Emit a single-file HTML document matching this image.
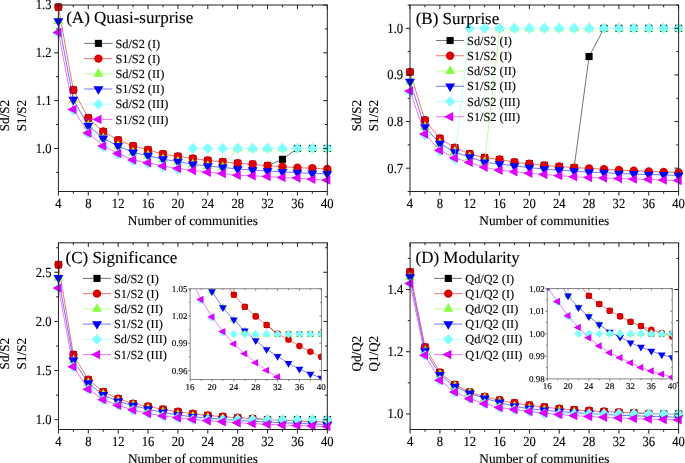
<!DOCTYPE html>
<html><head><meta charset="utf-8"><title>Figure</title>
<style>
html,body{margin:0;padding:0;background:#fff;}
body{width:685px;height:463px;overflow:hidden;}
svg{display:block;will-change:transform;}
text{font-family:"Liberation Serif", serif;fill:#000;stroke:#000;stroke-width:0.12px;text-rendering:geometricPrecision;}
</style></head>
<body>
<svg width="685" height="463" viewBox="0 0 685 463">
<rect width="685" height="463" fill="#fff"/>
<polyline points="267.54,165.82 282.48,159.32 297.42,148.46" fill="none" stroke="#000000" stroke-width="0.55"/>
<rect x="54.85" y="3.55" width="7.10" height="7.10" fill="#000000"/>
<rect x="69.79" y="86.43" width="7.10" height="7.10" fill="#000000"/>
<rect x="84.73" y="114.45" width="7.10" height="7.10" fill="#000000"/>
<rect x="99.67" y="127.98" width="7.10" height="7.10" fill="#000000"/>
<rect x="114.61" y="136.54" width="7.10" height="7.10" fill="#000000"/>
<rect x="129.54" y="142.42" width="7.10" height="7.10" fill="#000000"/>
<rect x="144.48" y="146.35" width="7.10" height="7.10" fill="#000000"/>
<rect x="159.42" y="150.51" width="7.10" height="7.10" fill="#000000"/>
<rect x="174.36" y="152.80" width="7.10" height="7.10" fill="#000000"/>
<rect x="189.30" y="154.95" width="7.10" height="7.10" fill="#000000"/>
<rect x="204.24" y="156.87" width="7.10" height="7.10" fill="#000000"/>
<rect x="219.18" y="158.30" width="7.10" height="7.10" fill="#000000"/>
<rect x="234.12" y="159.74" width="7.10" height="7.10" fill="#000000"/>
<rect x="249.06" y="160.69" width="7.10" height="7.10" fill="#000000"/>
<rect x="263.99" y="162.27" width="7.10" height="7.10" fill="#000000"/>
<rect x="278.93" y="155.77" width="7.10" height="7.10" fill="#000000"/>
<rect x="293.87" y="144.91" width="7.10" height="7.10" fill="#000000"/>
<rect x="308.81" y="144.91" width="7.10" height="7.10" fill="#000000"/>
<rect x="323.75" y="144.91" width="7.10" height="7.10" fill="#000000"/>
<polyline points="58.40,7.10 73.34,89.98 88.28,118.00 103.22,131.53 118.16,140.09 133.09,145.97 148.03,149.90 162.97,154.06 177.91,156.35 192.85,158.50 207.79,160.42 222.73,161.85 237.67,163.29 252.61,164.24 267.54,165.82 282.48,166.63 297.42,167.69 312.36,168.16 327.30,169.02" fill="none" stroke="#dd0000" stroke-width="0.55"/>
<circle cx="58.40" cy="7.10" r="4.20" fill="#dd0000"/>
<circle cx="73.34" cy="89.98" r="4.20" fill="#dd0000"/>
<circle cx="88.28" cy="118.00" r="4.20" fill="#dd0000"/>
<circle cx="103.22" cy="131.53" r="4.20" fill="#dd0000"/>
<circle cx="118.16" cy="140.09" r="4.20" fill="#dd0000"/>
<circle cx="133.09" cy="145.97" r="4.20" fill="#dd0000"/>
<circle cx="148.03" cy="149.90" r="4.20" fill="#dd0000"/>
<circle cx="162.97" cy="154.06" r="4.20" fill="#dd0000"/>
<circle cx="177.91" cy="156.35" r="4.20" fill="#dd0000"/>
<circle cx="192.85" cy="158.50" r="4.20" fill="#dd0000"/>
<circle cx="207.79" cy="160.42" r="4.20" fill="#dd0000"/>
<circle cx="222.73" cy="161.85" r="4.20" fill="#dd0000"/>
<circle cx="237.67" cy="163.29" r="4.20" fill="#dd0000"/>
<circle cx="252.61" cy="164.24" r="4.20" fill="#dd0000"/>
<circle cx="267.54" cy="165.82" r="4.20" fill="#dd0000"/>
<circle cx="282.48" cy="166.63" r="4.20" fill="#dd0000"/>
<circle cx="297.42" cy="167.69" r="4.20" fill="#dd0000"/>
<circle cx="312.36" cy="168.16" r="4.20" fill="#dd0000"/>
<circle cx="327.30" cy="169.02" r="4.20" fill="#dd0000"/>
<polyline points="222.73,167.30 237.67,148.46" fill="none" stroke="#88ff44" stroke-width="0.55"/>
<polygon points="58.40,15.22 53.40,23.92 63.40,23.92" fill="#88ff44"/>
<polygon points="73.34,93.88 68.34,102.58 78.34,102.58" fill="#88ff44"/>
<polygon points="88.28,119.71 83.28,128.41 93.28,128.41" fill="#88ff44"/>
<polygon points="103.22,132.62 98.22,141.32 108.22,141.32" fill="#88ff44"/>
<polygon points="118.16,140.17 113.16,148.87 123.16,148.87" fill="#88ff44"/>
<polygon points="133.09,146.63 128.09,155.33 138.09,155.33" fill="#88ff44"/>
<polygon points="148.03,149.83 143.03,158.53 153.03,158.53" fill="#88ff44"/>
<polygon points="162.97,153.42 157.97,162.12 167.97,162.12" fill="#88ff44"/>
<polygon points="177.91,155.72 172.91,164.42 182.91,164.42" fill="#88ff44"/>
<polygon points="192.85,158.59 187.85,167.29 197.85,167.29" fill="#88ff44"/>
<polygon points="207.79,160.31 202.79,169.01 212.79,169.01" fill="#88ff44"/>
<polygon points="222.73,161.50 217.73,170.20 227.73,170.20" fill="#88ff44"/>
<polygon points="237.67,142.66 232.67,151.36 242.67,151.36" fill="#88ff44"/>
<polygon points="252.61,142.66 247.61,151.36 257.61,151.36" fill="#88ff44"/>
<polygon points="267.54,142.66 262.54,151.36 272.54,151.36" fill="#88ff44"/>
<polygon points="282.48,142.66 277.48,151.36 287.48,151.36" fill="#88ff44"/>
<polygon points="297.42,142.66 292.42,151.36 302.42,151.36" fill="#88ff44"/>
<polygon points="312.36,142.66 307.36,151.36 317.36,151.36" fill="#88ff44"/>
<polygon points="327.30,142.66 322.30,151.36 332.30,151.36" fill="#88ff44"/>
<polyline points="58.40,21.02 73.34,99.68 88.28,125.51 103.22,138.42 118.16,145.97 133.09,152.43 148.03,155.63 162.97,159.22 177.91,161.52 192.85,164.39 207.79,166.11 222.73,167.30 237.67,169.02 252.61,170.08 267.54,171.08 282.48,171.89 297.42,172.66 312.36,173.47 327.30,173.81" fill="none" stroke="#0000ff" stroke-width="0.55"/>
<polygon points="58.40,26.75 53.40,18.15 63.40,18.15" fill="#0000ff"/>
<polygon points="73.34,105.42 68.34,96.82 78.34,96.82" fill="#0000ff"/>
<polygon points="88.28,131.24 83.28,122.64 93.28,122.64" fill="#0000ff"/>
<polygon points="103.22,144.15 98.22,135.55 108.22,135.55" fill="#0000ff"/>
<polygon points="118.16,151.71 113.16,143.11 123.16,143.11" fill="#0000ff"/>
<polygon points="133.09,158.16 128.09,149.56 138.09,149.56" fill="#0000ff"/>
<polygon points="148.03,161.37 143.03,152.77 153.03,152.77" fill="#0000ff"/>
<polygon points="162.97,164.95 157.97,156.35 167.97,156.35" fill="#0000ff"/>
<polygon points="177.91,167.25 172.91,158.65 182.91,158.65" fill="#0000ff"/>
<polygon points="192.85,170.12 187.85,161.52 197.85,161.52" fill="#0000ff"/>
<polygon points="207.79,171.84 202.79,163.24 212.79,163.24" fill="#0000ff"/>
<polygon points="222.73,173.04 217.73,164.44 227.73,164.44" fill="#0000ff"/>
<polygon points="237.67,174.76 232.67,166.16 242.67,166.16" fill="#0000ff"/>
<polygon points="252.61,175.81 247.61,167.21 257.61,167.21" fill="#0000ff"/>
<polygon points="267.54,176.81 262.54,168.21 272.54,168.21" fill="#0000ff"/>
<polygon points="282.48,177.63 277.48,169.03 287.48,169.03" fill="#0000ff"/>
<polygon points="297.42,178.39 292.42,169.79 302.42,169.79" fill="#0000ff"/>
<polygon points="312.36,179.20 307.36,170.60 317.36,170.60" fill="#0000ff"/>
<polygon points="327.30,179.54 322.30,170.94 332.30,170.94" fill="#0000ff"/>
<polyline points="177.91,168.40 192.85,148.46 207.79,148.46 222.73,148.46 237.67,148.46 252.61,148.46 267.54,148.46 282.48,148.46 297.42,148.46 312.36,148.46 327.30,148.46" fill="none" stroke="#80ffff" stroke-width="0.55"/>
<polygon points="58.40,28.10 63.60,33.45 58.40,38.80 53.20,33.45" fill="#80ffff"/>
<polygon points="73.34,105.00 78.54,110.35 73.34,115.70 68.14,110.35" fill="#80ffff"/>
<polygon points="88.28,128.62 93.48,133.97 88.28,139.32 83.08,133.97" fill="#80ffff"/>
<polygon points="103.22,141.58 108.42,146.93 103.22,152.28 98.02,146.93" fill="#80ffff"/>
<polygon points="118.16,149.04 123.36,154.39 118.16,159.74 112.96,154.39" fill="#80ffff"/>
<polygon points="133.09,155.54 138.29,160.89 133.09,166.24 127.89,160.89" fill="#80ffff"/>
<polygon points="148.03,158.41 153.23,163.76 148.03,169.11 142.83,163.76" fill="#80ffff"/>
<polygon points="162.97,161.71 168.17,167.06 162.97,172.41 157.77,167.06" fill="#80ffff"/>
<polygon points="177.91,164.01 183.11,169.36 177.91,174.71 172.71,169.36" fill="#80ffff"/>
<polygon points="192.85,143.11 198.05,148.46 192.85,153.81 187.65,148.46" fill="#80ffff"/>
<polygon points="207.79,143.11 212.99,148.46 207.79,153.81 202.59,148.46" fill="#80ffff"/>
<polygon points="222.73,143.11 227.93,148.46 222.73,153.81 217.53,148.46" fill="#80ffff"/>
<polygon points="237.67,143.11 242.87,148.46 237.67,153.81 232.47,148.46" fill="#80ffff"/>
<polygon points="252.61,143.11 257.81,148.46 252.61,153.81 247.41,148.46" fill="#80ffff"/>
<polygon points="267.54,143.11 272.74,148.46 267.54,153.81 262.34,148.46" fill="#80ffff"/>
<polygon points="282.48,143.11 287.68,148.46 282.48,153.81 277.28,148.46" fill="#80ffff"/>
<polygon points="297.42,143.11 302.62,148.46 297.42,153.81 292.22,148.46" fill="#80ffff"/>
<polygon points="312.36,143.11 317.56,148.46 312.36,153.81 307.16,148.46" fill="#80ffff"/>
<polygon points="327.30,143.11 332.50,148.46 327.30,153.81 322.10,148.46" fill="#80ffff"/>
<polyline points="58.40,32.50 73.34,109.39 88.28,133.02 103.22,145.97 118.16,153.43 133.09,159.94 148.03,162.81 162.97,166.11 177.91,168.40 192.85,170.46 207.79,172.18 222.73,173.57 237.67,175.34 252.61,175.86 267.54,176.44 282.48,177.44 297.42,178.06 312.36,179.35 327.30,180.17" fill="none" stroke="#dd00ff" stroke-width="0.55"/>
<polygon points="52.27,32.50 61.47,27.80 61.47,37.20" fill="#dd00ff"/>
<polygon points="67.21,109.39 76.41,104.69 76.41,114.09" fill="#dd00ff"/>
<polygon points="82.14,133.02 91.34,128.32 91.34,137.72" fill="#dd00ff"/>
<polygon points="97.08,145.97 106.28,141.27 106.28,150.67" fill="#dd00ff"/>
<polygon points="112.02,153.43 121.22,148.73 121.22,158.13" fill="#dd00ff"/>
<polygon points="126.96,159.94 136.16,155.24 136.16,164.64" fill="#dd00ff"/>
<polygon points="141.90,162.81 151.10,158.11 151.10,167.51" fill="#dd00ff"/>
<polygon points="156.84,166.11 166.04,161.41 166.04,170.81" fill="#dd00ff"/>
<polygon points="171.78,168.40 180.98,163.70 180.98,173.10" fill="#dd00ff"/>
<polygon points="186.72,170.46 195.92,165.76 195.92,175.16" fill="#dd00ff"/>
<polygon points="201.66,172.18 210.86,167.48 210.86,176.88" fill="#dd00ff"/>
<polygon points="216.59,173.57 225.79,168.87 225.79,178.27" fill="#dd00ff"/>
<polygon points="231.53,175.34 240.73,170.64 240.73,180.04" fill="#dd00ff"/>
<polygon points="246.47,175.86 255.67,171.16 255.67,180.56" fill="#dd00ff"/>
<polygon points="261.41,176.44 270.61,171.74 270.61,181.14" fill="#dd00ff"/>
<polygon points="276.35,177.44 285.55,172.74 285.55,182.14" fill="#dd00ff"/>
<polygon points="291.29,178.06 300.49,173.36 300.49,182.76" fill="#dd00ff"/>
<polygon points="306.23,179.35 315.43,174.65 315.43,184.05" fill="#dd00ff"/>
<polygon points="321.17,180.17 330.37,175.47 330.37,184.87" fill="#dd00ff"/>
<rect x="58.40" y="5.00" width="268.90" height="186.50" fill="none" stroke="#222" stroke-width="1.0"/>
<line x1="58.40" y1="191.50" x2="58.40" y2="195.60" stroke="#222" stroke-width="1.0"/>
<line x1="58.40" y1="5.00" x2="58.40" y2="9.10" stroke="#222" stroke-width="1.0"/>
<text transform="translate(58.40,208.30) scale(0.94,1.04)" font-size="13.4" text-anchor="middle" >4</text>
<line x1="73.34" y1="191.50" x2="73.34" y2="193.80" stroke="#222" stroke-width="1.0"/>
<line x1="73.34" y1="5.00" x2="73.34" y2="7.30" stroke="#222" stroke-width="1.0"/>
<line x1="88.28" y1="191.50" x2="88.28" y2="195.60" stroke="#222" stroke-width="1.0"/>
<line x1="88.28" y1="5.00" x2="88.28" y2="9.10" stroke="#222" stroke-width="1.0"/>
<text transform="translate(88.28,208.30) scale(0.94,1.04)" font-size="13.4" text-anchor="middle" >8</text>
<line x1="103.22" y1="191.50" x2="103.22" y2="193.80" stroke="#222" stroke-width="1.0"/>
<line x1="103.22" y1="5.00" x2="103.22" y2="7.30" stroke="#222" stroke-width="1.0"/>
<line x1="118.16" y1="191.50" x2="118.16" y2="195.60" stroke="#222" stroke-width="1.0"/>
<line x1="118.16" y1="5.00" x2="118.16" y2="9.10" stroke="#222" stroke-width="1.0"/>
<text transform="translate(118.16,208.30) scale(0.94,1.04)" font-size="13.4" text-anchor="middle" >12</text>
<line x1="133.09" y1="191.50" x2="133.09" y2="193.80" stroke="#222" stroke-width="1.0"/>
<line x1="133.09" y1="5.00" x2="133.09" y2="7.30" stroke="#222" stroke-width="1.0"/>
<line x1="148.03" y1="191.50" x2="148.03" y2="195.60" stroke="#222" stroke-width="1.0"/>
<line x1="148.03" y1="5.00" x2="148.03" y2="9.10" stroke="#222" stroke-width="1.0"/>
<text transform="translate(148.03,208.30) scale(0.94,1.04)" font-size="13.4" text-anchor="middle" >16</text>
<line x1="162.97" y1="191.50" x2="162.97" y2="193.80" stroke="#222" stroke-width="1.0"/>
<line x1="162.97" y1="5.00" x2="162.97" y2="7.30" stroke="#222" stroke-width="1.0"/>
<line x1="177.91" y1="191.50" x2="177.91" y2="195.60" stroke="#222" stroke-width="1.0"/>
<line x1="177.91" y1="5.00" x2="177.91" y2="9.10" stroke="#222" stroke-width="1.0"/>
<text transform="translate(177.91,208.30) scale(0.94,1.04)" font-size="13.4" text-anchor="middle" >20</text>
<line x1="192.85" y1="191.50" x2="192.85" y2="193.80" stroke="#222" stroke-width="1.0"/>
<line x1="192.85" y1="5.00" x2="192.85" y2="7.30" stroke="#222" stroke-width="1.0"/>
<line x1="207.79" y1="191.50" x2="207.79" y2="195.60" stroke="#222" stroke-width="1.0"/>
<line x1="207.79" y1="5.00" x2="207.79" y2="9.10" stroke="#222" stroke-width="1.0"/>
<text transform="translate(207.79,208.30) scale(0.94,1.04)" font-size="13.4" text-anchor="middle" >24</text>
<line x1="222.73" y1="191.50" x2="222.73" y2="193.80" stroke="#222" stroke-width="1.0"/>
<line x1="222.73" y1="5.00" x2="222.73" y2="7.30" stroke="#222" stroke-width="1.0"/>
<line x1="237.67" y1="191.50" x2="237.67" y2="195.60" stroke="#222" stroke-width="1.0"/>
<line x1="237.67" y1="5.00" x2="237.67" y2="9.10" stroke="#222" stroke-width="1.0"/>
<text transform="translate(237.67,208.30) scale(0.94,1.04)" font-size="13.4" text-anchor="middle" >28</text>
<line x1="252.61" y1="191.50" x2="252.61" y2="193.80" stroke="#222" stroke-width="1.0"/>
<line x1="252.61" y1="5.00" x2="252.61" y2="7.30" stroke="#222" stroke-width="1.0"/>
<line x1="267.54" y1="191.50" x2="267.54" y2="195.60" stroke="#222" stroke-width="1.0"/>
<line x1="267.54" y1="5.00" x2="267.54" y2="9.10" stroke="#222" stroke-width="1.0"/>
<text transform="translate(267.54,208.30) scale(0.94,1.04)" font-size="13.4" text-anchor="middle" >32</text>
<line x1="282.48" y1="191.50" x2="282.48" y2="193.80" stroke="#222" stroke-width="1.0"/>
<line x1="282.48" y1="5.00" x2="282.48" y2="7.30" stroke="#222" stroke-width="1.0"/>
<line x1="297.42" y1="191.50" x2="297.42" y2="195.60" stroke="#222" stroke-width="1.0"/>
<line x1="297.42" y1="5.00" x2="297.42" y2="9.10" stroke="#222" stroke-width="1.0"/>
<text transform="translate(297.42,208.30) scale(0.94,1.04)" font-size="13.4" text-anchor="middle" >36</text>
<line x1="312.36" y1="191.50" x2="312.36" y2="193.80" stroke="#222" stroke-width="1.0"/>
<line x1="312.36" y1="5.00" x2="312.36" y2="7.30" stroke="#222" stroke-width="1.0"/>
<line x1="327.30" y1="191.50" x2="327.30" y2="195.60" stroke="#222" stroke-width="1.0"/>
<line x1="327.30" y1="5.00" x2="327.30" y2="9.10" stroke="#222" stroke-width="1.0"/>
<text transform="translate(327.30,208.30) scale(0.94,1.04)" font-size="13.4" text-anchor="middle" >40</text>
<line x1="56.10" y1="172.37" x2="58.40" y2="172.37" stroke="#222" stroke-width="1.0"/>
<line x1="325.00" y1="172.37" x2="327.30" y2="172.37" stroke="#222" stroke-width="1.0"/>
<line x1="54.30" y1="148.46" x2="58.40" y2="148.46" stroke="#222" stroke-width="1.0"/>
<line x1="323.20" y1="148.46" x2="327.30" y2="148.46" stroke="#222" stroke-width="1.0"/>
<text transform="translate(51.50,152.86) scale(0.94,1.04)" font-size="13.4" text-anchor="end" >1.0</text>
<line x1="56.10" y1="124.55" x2="58.40" y2="124.55" stroke="#222" stroke-width="1.0"/>
<line x1="325.00" y1="124.55" x2="327.30" y2="124.55" stroke="#222" stroke-width="1.0"/>
<line x1="54.30" y1="100.64" x2="58.40" y2="100.64" stroke="#222" stroke-width="1.0"/>
<line x1="323.20" y1="100.64" x2="327.30" y2="100.64" stroke="#222" stroke-width="1.0"/>
<text transform="translate(51.50,105.04) scale(0.94,1.04)" font-size="13.4" text-anchor="end" >1.1</text>
<line x1="56.10" y1="76.73" x2="58.40" y2="76.73" stroke="#222" stroke-width="1.0"/>
<line x1="325.00" y1="76.73" x2="327.30" y2="76.73" stroke="#222" stroke-width="1.0"/>
<line x1="54.30" y1="52.82" x2="58.40" y2="52.82" stroke="#222" stroke-width="1.0"/>
<line x1="323.20" y1="52.82" x2="327.30" y2="52.82" stroke="#222" stroke-width="1.0"/>
<text transform="translate(51.50,57.22) scale(0.94,1.04)" font-size="13.4" text-anchor="end" >1.2</text>
<line x1="56.10" y1="28.91" x2="58.40" y2="28.91" stroke="#222" stroke-width="1.0"/>
<line x1="325.00" y1="28.91" x2="327.30" y2="28.91" stroke="#222" stroke-width="1.0"/>
<line x1="54.30" y1="5.00" x2="58.40" y2="5.00" stroke="#222" stroke-width="1.0"/>
<line x1="323.20" y1="5.00" x2="327.30" y2="5.00" stroke="#222" stroke-width="1.0"/>
<text transform="translate(51.50,9.40) scale(0.94,1.04)" font-size="13.4" text-anchor="end" >1.3</text>
<text x="192.85" y="224.90" font-size="13.3" text-anchor="middle" >Number of communities</text>
<text transform="translate(8.90,115.50) rotate(-90) scale(0.98,1.0)" font-size="13.4" text-anchor="middle">Sd/S2</text>
<text transform="translate(25.90,115.50) rotate(-90) scale(0.98,1.0)" font-size="13.4" text-anchor="middle">S1/S2</text>
<text x="66.20" y="23.20" font-size="17" text-anchor="start" >(A) Quasi-surprise</text>
<line x1="84.20" y1="43.40" x2="112.40" y2="43.40" stroke="#000000" stroke-width="0.55"/>
<rect x="94.85" y="39.85" width="7.10" height="7.10" fill="#000000"/>
<text x="115.40" y="47.50" font-size="12.3" text-anchor="start" >Sd/S2 (I)</text>
<line x1="84.20" y1="58.60" x2="112.40" y2="58.60" stroke="#dd0000" stroke-width="0.55"/>
<circle cx="98.40" cy="58.60" r="4.20" fill="#dd0000"/>
<text x="115.40" y="62.70" font-size="12.3" text-anchor="start" >S1/S2 (I)</text>
<line x1="84.20" y1="73.80" x2="112.40" y2="73.80" stroke="#88ff44" stroke-width="0.55"/>
<polygon points="98.40,68.00 93.40,76.70 103.40,76.70" fill="#88ff44"/>
<text x="115.40" y="77.90" font-size="12.3" text-anchor="start" >Sd/S2 (II)</text>
<line x1="84.20" y1="89.00" x2="112.40" y2="89.00" stroke="#0000ff" stroke-width="0.55"/>
<polygon points="98.40,94.73 93.40,86.13 103.40,86.13" fill="#0000ff"/>
<text x="115.40" y="93.10" font-size="12.3" text-anchor="start" >S1/S2 (II)</text>
<line x1="84.20" y1="104.20" x2="112.40" y2="104.20" stroke="#80ffff" stroke-width="0.55"/>
<polygon points="98.40,98.85 103.60,104.20 98.40,109.55 93.20,104.20" fill="#80ffff"/>
<text x="115.40" y="108.30" font-size="12.3" text-anchor="start" >Sd/S2 (III)</text>
<line x1="84.20" y1="119.40" x2="112.40" y2="119.40" stroke="#dd00ff" stroke-width="0.55"/>
<polygon points="92.27,119.40 101.47,114.70 101.47,124.10" fill="#dd00ff"/>
<text x="115.40" y="123.50" font-size="12.3" text-anchor="start" >S1/S2 (III)</text>
<polyline points="574.14,167.58 589.07,56.52 603.99,28.31" fill="none" stroke="#000000" stroke-width="0.55"/>
<rect x="406.45" y="68.50" width="7.10" height="7.10" fill="#000000"/>
<rect x="421.37" y="116.71" width="7.10" height="7.10" fill="#000000"/>
<rect x="436.29" y="134.84" width="7.10" height="7.10" fill="#000000"/>
<rect x="451.22" y="144.12" width="7.10" height="7.10" fill="#000000"/>
<rect x="466.14" y="150.28" width="7.10" height="7.10" fill="#000000"/>
<rect x="481.06" y="154.10" width="7.10" height="7.10" fill="#000000"/>
<rect x="495.98" y="155.92" width="7.10" height="7.10" fill="#000000"/>
<rect x="510.91" y="158.67" width="7.10" height="7.10" fill="#000000"/>
<rect x="525.83" y="160.16" width="7.10" height="7.10" fill="#000000"/>
<rect x="540.75" y="161.84" width="7.10" height="7.10" fill="#000000"/>
<rect x="555.67" y="162.96" width="7.10" height="7.10" fill="#000000"/>
<rect x="570.59" y="164.03" width="7.10" height="7.10" fill="#000000"/>
<rect x="585.52" y="52.97" width="7.10" height="7.10" fill="#000000"/>
<rect x="600.44" y="24.76" width="7.10" height="7.10" fill="#000000"/>
<rect x="615.36" y="24.76" width="7.10" height="7.10" fill="#000000"/>
<rect x="630.28" y="24.76" width="7.10" height="7.10" fill="#000000"/>
<rect x="645.21" y="24.76" width="7.10" height="7.10" fill="#000000"/>
<rect x="660.13" y="24.76" width="7.10" height="7.10" fill="#000000"/>
<rect x="675.05" y="24.76" width="7.10" height="7.10" fill="#000000"/>
<polyline points="410.00,72.05 424.92,120.26 439.84,138.39 454.77,147.67 469.69,153.83 484.61,157.65 499.53,159.47 514.46,162.22 529.38,163.71 544.30,165.39 559.22,166.51 574.14,167.58 589.07,168.37 603.99,169.12 618.91,169.87 633.83,170.66 648.76,171.36 663.68,171.92 678.60,172.48" fill="none" stroke="#dd0000" stroke-width="0.55"/>
<circle cx="410.00" cy="72.05" r="4.20" fill="#dd0000"/>
<circle cx="424.92" cy="120.26" r="4.20" fill="#dd0000"/>
<circle cx="439.84" cy="138.39" r="4.20" fill="#dd0000"/>
<circle cx="454.77" cy="147.67" r="4.20" fill="#dd0000"/>
<circle cx="469.69" cy="153.83" r="4.20" fill="#dd0000"/>
<circle cx="484.61" cy="157.65" r="4.20" fill="#dd0000"/>
<circle cx="499.53" cy="159.47" r="4.20" fill="#dd0000"/>
<circle cx="514.46" cy="162.22" r="4.20" fill="#dd0000"/>
<circle cx="529.38" cy="163.71" r="4.20" fill="#dd0000"/>
<circle cx="544.30" cy="165.39" r="4.20" fill="#dd0000"/>
<circle cx="559.22" cy="166.51" r="4.20" fill="#dd0000"/>
<circle cx="574.14" cy="167.58" r="4.20" fill="#dd0000"/>
<circle cx="589.07" cy="168.37" r="4.20" fill="#dd0000"/>
<circle cx="603.99" cy="169.12" r="4.20" fill="#dd0000"/>
<circle cx="618.91" cy="169.87" r="4.20" fill="#dd0000"/>
<circle cx="633.83" cy="170.66" r="4.20" fill="#dd0000"/>
<circle cx="648.76" cy="171.36" r="4.20" fill="#dd0000"/>
<circle cx="663.68" cy="171.92" r="4.20" fill="#dd0000"/>
<circle cx="678.60" cy="172.48" r="4.20" fill="#dd0000"/>
<polyline points="484.61,162.31 499.53,28.31" fill="none" stroke="#88ff44" stroke-width="0.55"/>
<polygon points="410.00,75.80 405.00,84.50 415.00,84.50" fill="#88ff44"/>
<polygon points="424.92,121.26 419.92,129.96 429.92,129.96" fill="#88ff44"/>
<polygon points="439.84,137.77 434.84,146.47 444.84,146.47" fill="#88ff44"/>
<polygon points="454.77,146.26 449.77,154.96 459.77,154.96" fill="#88ff44"/>
<polygon points="469.69,151.43 464.69,160.13 474.69,160.13" fill="#88ff44"/>
<polygon points="484.61,156.51 479.61,165.21 489.61,165.21" fill="#88ff44"/>
<polygon points="499.53,22.51 494.53,31.21 504.53,31.21" fill="#88ff44"/>
<polygon points="514.46,22.51 509.46,31.21 519.46,31.21" fill="#88ff44"/>
<polygon points="529.38,22.51 524.38,31.21 534.38,31.21" fill="#88ff44"/>
<polygon points="544.30,22.51 539.30,31.21 549.30,31.21" fill="#88ff44"/>
<polygon points="559.22,22.51 554.22,31.21 564.22,31.21" fill="#88ff44"/>
<polygon points="574.14,22.51 569.14,31.21 579.14,31.21" fill="#88ff44"/>
<polygon points="589.07,22.51 584.07,31.21 594.07,31.21" fill="#88ff44"/>
<polygon points="603.99,22.51 598.99,31.21 608.99,31.21" fill="#88ff44"/>
<polygon points="618.91,22.51 613.91,31.21 623.91,31.21" fill="#88ff44"/>
<polygon points="633.83,22.51 628.83,31.21 638.83,31.21" fill="#88ff44"/>
<polygon points="648.76,22.51 643.76,31.21 653.76,31.21" fill="#88ff44"/>
<polygon points="663.68,22.51 658.68,31.21 668.68,31.21" fill="#88ff44"/>
<polygon points="678.60,22.51 673.60,31.21 683.60,31.21" fill="#88ff44"/>
<polyline points="410.00,81.60 424.92,127.06 439.84,143.57 454.77,152.06 469.69,157.23 484.61,162.31 499.53,163.99 514.46,166.00 529.38,167.58 544.30,169.12 559.22,170.19 574.14,171.08 589.07,172.15 603.99,172.62 618.91,173.64 633.83,173.97 648.76,174.58 663.68,174.85 678.60,175.55" fill="none" stroke="#0000ff" stroke-width="0.55"/>
<polygon points="410.00,87.34 405.00,78.74 415.00,78.74" fill="#0000ff"/>
<polygon points="424.92,132.80 419.92,124.20 429.92,124.20" fill="#0000ff"/>
<polygon points="439.84,149.30 434.84,140.70 444.84,140.70" fill="#0000ff"/>
<polygon points="454.77,157.79 449.77,149.19 459.77,149.19" fill="#0000ff"/>
<polygon points="469.69,162.96 464.69,154.36 474.69,154.36" fill="#0000ff"/>
<polygon points="484.61,168.05 479.61,159.45 489.61,159.45" fill="#0000ff"/>
<polygon points="499.53,169.72 494.53,161.12 504.53,161.12" fill="#0000ff"/>
<polygon points="514.46,171.73 509.46,163.13 519.46,163.13" fill="#0000ff"/>
<polygon points="529.38,173.31 524.38,164.71 534.38,164.71" fill="#0000ff"/>
<polygon points="544.30,174.85 539.30,166.25 549.30,166.25" fill="#0000ff"/>
<polygon points="559.22,175.93 554.22,167.33 564.22,167.33" fill="#0000ff"/>
<polygon points="574.14,176.81 569.14,168.21 579.14,168.21" fill="#0000ff"/>
<polygon points="589.07,177.88 584.07,169.28 594.07,169.28" fill="#0000ff"/>
<polygon points="603.99,178.35 598.99,169.75 608.99,169.75" fill="#0000ff"/>
<polygon points="618.91,179.38 613.91,170.78 623.91,170.78" fill="#0000ff"/>
<polygon points="633.83,179.70 628.83,171.10 638.83,171.10" fill="#0000ff"/>
<polygon points="648.76,180.31 643.76,171.71 653.76,171.71" fill="#0000ff"/>
<polygon points="663.68,180.59 658.68,171.99 668.68,171.99" fill="#0000ff"/>
<polygon points="678.60,181.29 673.60,172.69 683.60,172.69" fill="#0000ff"/>
<polyline points="454.77,158.02 469.69,28.31 484.61,28.31 499.53,28.31 514.46,28.31 529.38,28.31 544.30,28.31 559.22,28.31 574.14,28.31 589.07,28.31 603.99,28.31 618.91,28.31 633.83,28.31 648.76,28.31 663.68,28.31 678.60,28.31" fill="none" stroke="#80ffff" stroke-width="0.55"/>
<polygon points="410.00,86.47 415.20,91.82 410.00,97.17 404.80,91.82" fill="#80ffff"/>
<polygon points="424.92,129.59 430.12,134.94 424.92,140.29 419.72,134.94" fill="#80ffff"/>
<polygon points="439.84,145.82 445.04,151.17 439.84,156.52 434.64,151.17" fill="#80ffff"/>
<polygon points="454.77,153.61 459.97,158.96 454.77,164.31 449.57,158.96" fill="#80ffff"/>
<polygon points="469.69,22.96 474.89,28.31 469.69,33.66 464.49,28.31" fill="#80ffff"/>
<polygon points="484.61,22.96 489.81,28.31 484.61,33.66 479.41,28.31" fill="#80ffff"/>
<polygon points="499.53,22.96 504.73,28.31 499.53,33.66 494.33,28.31" fill="#80ffff"/>
<polygon points="514.46,22.96 519.66,28.31 514.46,33.66 509.26,28.31" fill="#80ffff"/>
<polygon points="529.38,22.96 534.58,28.31 529.38,33.66 524.18,28.31" fill="#80ffff"/>
<polygon points="544.30,22.96 549.50,28.31 544.30,33.66 539.10,28.31" fill="#80ffff"/>
<polygon points="559.22,22.96 564.42,28.31 559.22,33.66 554.02,28.31" fill="#80ffff"/>
<polygon points="574.14,22.96 579.34,28.31 574.14,33.66 568.94,28.31" fill="#80ffff"/>
<polygon points="589.07,22.96 594.27,28.31 589.07,33.66 583.87,28.31" fill="#80ffff"/>
<polygon points="603.99,22.96 609.19,28.31 603.99,33.66 598.79,28.31" fill="#80ffff"/>
<polygon points="618.91,22.96 624.11,28.31 618.91,33.66 613.71,28.31" fill="#80ffff"/>
<polygon points="633.83,22.96 639.03,28.31 633.83,33.66 628.63,28.31" fill="#80ffff"/>
<polygon points="648.76,22.96 653.96,28.31 648.76,33.66 643.56,28.31" fill="#80ffff"/>
<polygon points="663.68,22.96 668.88,28.31 663.68,33.66 658.48,28.31" fill="#80ffff"/>
<polygon points="678.60,22.96 683.80,28.31 678.60,33.66 673.40,28.31" fill="#80ffff"/>
<polyline points="410.00,90.88 424.92,134.01 439.84,150.24 454.77,158.02 469.69,162.41 484.61,167.30 499.53,170.19 514.46,171.68 529.38,173.18 544.30,174.44 559.22,175.65 574.14,176.77 589.07,177.51 603.99,177.98 618.91,178.44 633.83,179.14 648.76,179.38 663.68,180.12 678.60,180.54" fill="none" stroke="#dd00ff" stroke-width="0.55"/>
<polygon points="403.87,90.88 413.07,86.18 413.07,95.58" fill="#dd00ff"/>
<polygon points="418.79,134.01 427.99,129.31 427.99,138.71" fill="#dd00ff"/>
<polygon points="433.71,150.24 442.91,145.54 442.91,154.94" fill="#dd00ff"/>
<polygon points="448.63,158.02 457.83,153.32 457.83,162.72" fill="#dd00ff"/>
<polygon points="463.56,162.41 472.76,157.71 472.76,167.11" fill="#dd00ff"/>
<polygon points="478.48,167.30 487.68,162.60 487.68,172.00" fill="#dd00ff"/>
<polygon points="493.40,170.19 502.60,165.49 502.60,174.89" fill="#dd00ff"/>
<polygon points="508.32,171.68 517.52,166.98 517.52,176.38" fill="#dd00ff"/>
<polygon points="523.24,173.18 532.44,168.48 532.44,177.88" fill="#dd00ff"/>
<polygon points="538.17,174.44 547.37,169.74 547.37,179.14" fill="#dd00ff"/>
<polygon points="553.09,175.65 562.29,170.95 562.29,180.35" fill="#dd00ff"/>
<polygon points="568.01,176.77 577.21,172.07 577.21,181.47" fill="#dd00ff"/>
<polygon points="582.93,177.51 592.13,172.81 592.13,182.21" fill="#dd00ff"/>
<polygon points="597.86,177.98 607.06,173.28 607.06,182.68" fill="#dd00ff"/>
<polygon points="612.78,178.44 621.98,173.75 621.98,183.14" fill="#dd00ff"/>
<polygon points="627.70,179.14 636.90,174.44 636.90,183.84" fill="#dd00ff"/>
<polygon points="642.62,179.38 651.82,174.68 651.82,184.08" fill="#dd00ff"/>
<polygon points="657.54,180.12 666.74,175.42 666.74,184.82" fill="#dd00ff"/>
<polygon points="672.47,180.54 681.67,175.84 681.67,185.24" fill="#dd00ff"/>
<rect x="410.00" y="5.00" width="268.60" height="186.50" fill="none" stroke="#222" stroke-width="1.0"/>
<line x1="410.00" y1="191.50" x2="410.00" y2="195.60" stroke="#222" stroke-width="1.0"/>
<line x1="410.00" y1="5.00" x2="410.00" y2="9.10" stroke="#222" stroke-width="1.0"/>
<text transform="translate(410.00,208.30) scale(0.94,1.04)" font-size="13.4" text-anchor="middle" >4</text>
<line x1="424.92" y1="191.50" x2="424.92" y2="193.80" stroke="#222" stroke-width="1.0"/>
<line x1="424.92" y1="5.00" x2="424.92" y2="7.30" stroke="#222" stroke-width="1.0"/>
<line x1="439.84" y1="191.50" x2="439.84" y2="195.60" stroke="#222" stroke-width="1.0"/>
<line x1="439.84" y1="5.00" x2="439.84" y2="9.10" stroke="#222" stroke-width="1.0"/>
<text transform="translate(439.84,208.30) scale(0.94,1.04)" font-size="13.4" text-anchor="middle" >8</text>
<line x1="454.77" y1="191.50" x2="454.77" y2="193.80" stroke="#222" stroke-width="1.0"/>
<line x1="454.77" y1="5.00" x2="454.77" y2="7.30" stroke="#222" stroke-width="1.0"/>
<line x1="469.69" y1="191.50" x2="469.69" y2="195.60" stroke="#222" stroke-width="1.0"/>
<line x1="469.69" y1="5.00" x2="469.69" y2="9.10" stroke="#222" stroke-width="1.0"/>
<text transform="translate(469.69,208.30) scale(0.94,1.04)" font-size="13.4" text-anchor="middle" >12</text>
<line x1="484.61" y1="191.50" x2="484.61" y2="193.80" stroke="#222" stroke-width="1.0"/>
<line x1="484.61" y1="5.00" x2="484.61" y2="7.30" stroke="#222" stroke-width="1.0"/>
<line x1="499.53" y1="191.50" x2="499.53" y2="195.60" stroke="#222" stroke-width="1.0"/>
<line x1="499.53" y1="5.00" x2="499.53" y2="9.10" stroke="#222" stroke-width="1.0"/>
<text transform="translate(499.53,208.30) scale(0.94,1.04)" font-size="13.4" text-anchor="middle" >16</text>
<line x1="514.46" y1="191.50" x2="514.46" y2="193.80" stroke="#222" stroke-width="1.0"/>
<line x1="514.46" y1="5.00" x2="514.46" y2="7.30" stroke="#222" stroke-width="1.0"/>
<line x1="529.38" y1="191.50" x2="529.38" y2="195.60" stroke="#222" stroke-width="1.0"/>
<line x1="529.38" y1="5.00" x2="529.38" y2="9.10" stroke="#222" stroke-width="1.0"/>
<text transform="translate(529.38,208.30) scale(0.94,1.04)" font-size="13.4" text-anchor="middle" >20</text>
<line x1="544.30" y1="191.50" x2="544.30" y2="193.80" stroke="#222" stroke-width="1.0"/>
<line x1="544.30" y1="5.00" x2="544.30" y2="7.30" stroke="#222" stroke-width="1.0"/>
<line x1="559.22" y1="191.50" x2="559.22" y2="195.60" stroke="#222" stroke-width="1.0"/>
<line x1="559.22" y1="5.00" x2="559.22" y2="9.10" stroke="#222" stroke-width="1.0"/>
<text transform="translate(559.22,208.30) scale(0.94,1.04)" font-size="13.4" text-anchor="middle" >24</text>
<line x1="574.14" y1="191.50" x2="574.14" y2="193.80" stroke="#222" stroke-width="1.0"/>
<line x1="574.14" y1="5.00" x2="574.14" y2="7.30" stroke="#222" stroke-width="1.0"/>
<line x1="589.07" y1="191.50" x2="589.07" y2="195.60" stroke="#222" stroke-width="1.0"/>
<line x1="589.07" y1="5.00" x2="589.07" y2="9.10" stroke="#222" stroke-width="1.0"/>
<text transform="translate(589.07,208.30) scale(0.94,1.04)" font-size="13.4" text-anchor="middle" >28</text>
<line x1="603.99" y1="191.50" x2="603.99" y2="193.80" stroke="#222" stroke-width="1.0"/>
<line x1="603.99" y1="5.00" x2="603.99" y2="7.30" stroke="#222" stroke-width="1.0"/>
<line x1="618.91" y1="191.50" x2="618.91" y2="195.60" stroke="#222" stroke-width="1.0"/>
<line x1="618.91" y1="5.00" x2="618.91" y2="9.10" stroke="#222" stroke-width="1.0"/>
<text transform="translate(618.91,208.30) scale(0.94,1.04)" font-size="13.4" text-anchor="middle" >32</text>
<line x1="633.83" y1="191.50" x2="633.83" y2="193.80" stroke="#222" stroke-width="1.0"/>
<line x1="633.83" y1="5.00" x2="633.83" y2="7.30" stroke="#222" stroke-width="1.0"/>
<line x1="648.76" y1="191.50" x2="648.76" y2="195.60" stroke="#222" stroke-width="1.0"/>
<line x1="648.76" y1="5.00" x2="648.76" y2="9.10" stroke="#222" stroke-width="1.0"/>
<text transform="translate(648.76,208.30) scale(0.94,1.04)" font-size="13.4" text-anchor="middle" >36</text>
<line x1="663.68" y1="191.50" x2="663.68" y2="193.80" stroke="#222" stroke-width="1.0"/>
<line x1="663.68" y1="5.00" x2="663.68" y2="7.30" stroke="#222" stroke-width="1.0"/>
<line x1="678.60" y1="191.50" x2="678.60" y2="195.60" stroke="#222" stroke-width="1.0"/>
<line x1="678.60" y1="5.00" x2="678.60" y2="9.10" stroke="#222" stroke-width="1.0"/>
<text transform="translate(678.60,208.30) scale(0.94,1.04)" font-size="13.4" text-anchor="middle" >40</text>
<line x1="407.70" y1="191.50" x2="410.00" y2="191.50" stroke="#222" stroke-width="1.0"/>
<line x1="676.30" y1="191.50" x2="678.60" y2="191.50" stroke="#222" stroke-width="1.0"/>
<line x1="405.90" y1="168.19" x2="410.00" y2="168.19" stroke="#222" stroke-width="1.0"/>
<line x1="674.50" y1="168.19" x2="678.60" y2="168.19" stroke="#222" stroke-width="1.0"/>
<text transform="translate(403.10,172.59) scale(0.94,1.04)" font-size="13.4" text-anchor="end" >0.7</text>
<line x1="407.70" y1="144.88" x2="410.00" y2="144.88" stroke="#222" stroke-width="1.0"/>
<line x1="676.30" y1="144.88" x2="678.60" y2="144.88" stroke="#222" stroke-width="1.0"/>
<line x1="405.90" y1="121.56" x2="410.00" y2="121.56" stroke="#222" stroke-width="1.0"/>
<line x1="674.50" y1="121.56" x2="678.60" y2="121.56" stroke="#222" stroke-width="1.0"/>
<text transform="translate(403.10,125.96) scale(0.94,1.04)" font-size="13.4" text-anchor="end" >0.8</text>
<line x1="407.70" y1="98.25" x2="410.00" y2="98.25" stroke="#222" stroke-width="1.0"/>
<line x1="676.30" y1="98.25" x2="678.60" y2="98.25" stroke="#222" stroke-width="1.0"/>
<line x1="405.90" y1="74.94" x2="410.00" y2="74.94" stroke="#222" stroke-width="1.0"/>
<line x1="674.50" y1="74.94" x2="678.60" y2="74.94" stroke="#222" stroke-width="1.0"/>
<text transform="translate(403.10,79.34) scale(0.94,1.04)" font-size="13.4" text-anchor="end" >0.9</text>
<line x1="407.70" y1="51.63" x2="410.00" y2="51.63" stroke="#222" stroke-width="1.0"/>
<line x1="676.30" y1="51.63" x2="678.60" y2="51.63" stroke="#222" stroke-width="1.0"/>
<line x1="405.90" y1="28.31" x2="410.00" y2="28.31" stroke="#222" stroke-width="1.0"/>
<line x1="674.50" y1="28.31" x2="678.60" y2="28.31" stroke="#222" stroke-width="1.0"/>
<text transform="translate(403.10,32.71) scale(0.94,1.04)" font-size="13.4" text-anchor="end" >1.0</text>
<line x1="407.70" y1="5.00" x2="410.00" y2="5.00" stroke="#222" stroke-width="1.0"/>
<line x1="676.30" y1="5.00" x2="678.60" y2="5.00" stroke="#222" stroke-width="1.0"/>
<text x="544.30" y="224.90" font-size="13.3" text-anchor="middle" >Number of communities</text>
<text transform="translate(360.80,115.60) rotate(-90) scale(0.98,1.0)" font-size="13.4" text-anchor="middle">Sd/S2</text>
<text transform="translate(377.90,115.60) rotate(-90) scale(0.98,1.0)" font-size="13.4" text-anchor="middle">S1/S2</text>
<text x="415.70" y="23.90" font-size="17" text-anchor="start" >(B) Surprise</text>
<line x1="435.90" y1="40.50" x2="464.10" y2="40.50" stroke="#000000" stroke-width="0.55"/>
<rect x="446.55" y="36.95" width="7.10" height="7.10" fill="#000000"/>
<text x="467.10" y="44.60" font-size="12.3" text-anchor="start" >Sd/S2 (I)</text>
<line x1="435.90" y1="55.75" x2="464.10" y2="55.75" stroke="#dd0000" stroke-width="0.55"/>
<circle cx="450.10" cy="55.75" r="4.20" fill="#dd0000"/>
<text x="467.10" y="59.85" font-size="12.3" text-anchor="start" >S1/S2 (I)</text>
<line x1="435.90" y1="71.00" x2="464.10" y2="71.00" stroke="#88ff44" stroke-width="0.55"/>
<polygon points="450.10,65.20 445.10,73.90 455.10,73.90" fill="#88ff44"/>
<text x="467.10" y="75.10" font-size="12.3" text-anchor="start" >Sd/S2 (II)</text>
<line x1="435.90" y1="86.25" x2="464.10" y2="86.25" stroke="#0000ff" stroke-width="0.55"/>
<polygon points="450.10,91.98 445.10,83.38 455.10,83.38" fill="#0000ff"/>
<text x="467.10" y="90.35" font-size="12.3" text-anchor="start" >S1/S2 (II)</text>
<line x1="435.90" y1="101.50" x2="464.10" y2="101.50" stroke="#80ffff" stroke-width="0.55"/>
<polygon points="450.10,96.15 455.30,101.50 450.10,106.85 444.90,101.50" fill="#80ffff"/>
<text x="467.10" y="105.60" font-size="12.3" text-anchor="start" >Sd/S2 (III)</text>
<line x1="435.90" y1="116.75" x2="464.10" y2="116.75" stroke="#dd00ff" stroke-width="0.55"/>
<polygon points="443.97,116.75 453.17,112.05 453.17,121.45" fill="#dd00ff"/>
<text x="467.10" y="120.85" font-size="12.3" text-anchor="start" >S1/S2 (III)</text>
<polyline points="252.62,418.69 267.56,419.67" fill="none" stroke="#000000" stroke-width="0.55"/>
<rect x="54.90" y="261.16" width="7.10" height="7.10" fill="#000000"/>
<rect x="69.84" y="351.17" width="7.10" height="7.10" fill="#000000"/>
<rect x="84.77" y="376.23" width="7.10" height="7.10" fill="#000000"/>
<rect x="99.71" y="388.32" width="7.10" height="7.10" fill="#000000"/>
<rect x="114.64" y="395.19" width="7.10" height="7.10" fill="#000000"/>
<rect x="129.58" y="400.11" width="7.10" height="7.10" fill="#000000"/>
<rect x="144.52" y="402.86" width="7.10" height="7.10" fill="#000000"/>
<rect x="159.45" y="405.81" width="7.10" height="7.10" fill="#000000"/>
<rect x="174.39" y="408.26" width="7.10" height="7.10" fill="#000000"/>
<rect x="189.32" y="410.23" width="7.10" height="7.10" fill="#000000"/>
<rect x="204.26" y="411.85" width="7.10" height="7.10" fill="#000000"/>
<rect x="219.20" y="413.16" width="7.10" height="7.10" fill="#000000"/>
<rect x="234.13" y="414.20" width="7.10" height="7.10" fill="#000000"/>
<rect x="249.07" y="415.14" width="7.10" height="7.10" fill="#000000"/>
<rect x="264.01" y="416.12" width="7.10" height="7.10" fill="#000000"/>
<rect x="278.94" y="416.12" width="7.10" height="7.10" fill="#000000"/>
<rect x="293.88" y="416.12" width="7.10" height="7.10" fill="#000000"/>
<rect x="308.81" y="416.12" width="7.10" height="7.10" fill="#000000"/>
<rect x="323.75" y="416.12" width="7.10" height="7.10" fill="#000000"/>
<polyline points="58.45,264.71 73.39,354.72 88.32,379.78 103.26,391.87 118.19,398.74 133.13,403.66 148.07,406.41 163.00,409.36 177.94,411.81 192.88,413.78 207.81,415.40 222.75,416.71 237.68,417.75 252.62,418.69 267.56,419.60 282.49,420.26 297.43,420.95 312.36,421.57 327.30,422.13" fill="none" stroke="#dd0000" stroke-width="0.55"/>
<circle cx="58.45" cy="264.71" r="4.20" fill="#dd0000"/>
<circle cx="73.39" cy="354.72" r="4.20" fill="#dd0000"/>
<circle cx="88.32" cy="379.78" r="4.20" fill="#dd0000"/>
<circle cx="103.26" cy="391.87" r="4.20" fill="#dd0000"/>
<circle cx="118.19" cy="398.74" r="4.20" fill="#dd0000"/>
<circle cx="133.13" cy="403.66" r="4.20" fill="#dd0000"/>
<circle cx="148.07" cy="406.41" r="4.20" fill="#dd0000"/>
<circle cx="163.00" cy="409.36" r="4.20" fill="#dd0000"/>
<circle cx="177.94" cy="411.81" r="4.20" fill="#dd0000"/>
<circle cx="192.88" cy="413.78" r="4.20" fill="#dd0000"/>
<circle cx="207.81" cy="415.40" r="4.20" fill="#dd0000"/>
<circle cx="222.75" cy="416.71" r="4.20" fill="#dd0000"/>
<circle cx="237.68" cy="417.75" r="4.20" fill="#dd0000"/>
<circle cx="252.62" cy="418.69" r="4.20" fill="#dd0000"/>
<circle cx="267.56" cy="419.60" r="4.20" fill="#dd0000"/>
<circle cx="282.49" cy="420.26" r="4.20" fill="#dd0000"/>
<circle cx="297.43" cy="420.95" r="4.20" fill="#dd0000"/>
<circle cx="312.36" cy="421.57" r="4.20" fill="#dd0000"/>
<circle cx="327.30" cy="422.13" r="4.20" fill="#dd0000"/>
<polyline points="222.75,419.31 237.68,419.67" fill="none" stroke="#88ff44" stroke-width="0.55"/>
<polygon points="58.45,271.98 53.45,280.68 63.45,280.68" fill="#88ff44"/>
<polygon points="73.39,354.62 68.39,363.32 78.39,363.32" fill="#88ff44"/>
<polygon points="88.32,377.42 83.32,386.12 93.32,386.12" fill="#88ff44"/>
<polygon points="103.26,389.11 98.26,397.81 108.26,397.81" fill="#88ff44"/>
<polygon points="118.19,395.60 113.19,404.30 123.19,404.30" fill="#88ff44"/>
<polygon points="133.13,399.92 128.13,408.62 138.13,408.62" fill="#88ff44"/>
<polygon points="148.07,403.36 143.07,412.06 153.07,412.06" fill="#88ff44"/>
<polygon points="163.00,406.50 158.00,415.20 168.00,415.20" fill="#88ff44"/>
<polygon points="177.94,409.26 172.94,417.96 182.94,417.96" fill="#88ff44"/>
<polygon points="192.88,410.99 187.88,419.69 197.88,419.69" fill="#88ff44"/>
<polygon points="207.81,412.30 202.81,421.00 212.81,421.00" fill="#88ff44"/>
<polygon points="222.75,413.51 217.75,422.21 227.75,422.21" fill="#88ff44"/>
<polygon points="237.68,413.87 232.68,422.57 242.68,422.57" fill="#88ff44"/>
<polygon points="252.62,413.87 247.62,422.57 257.62,422.57" fill="#88ff44"/>
<polygon points="267.56,413.87 262.56,422.57 272.56,422.57" fill="#88ff44"/>
<polygon points="282.49,413.87 277.49,422.57 287.49,422.57" fill="#88ff44"/>
<polygon points="297.43,413.87 292.43,422.57 302.43,422.57" fill="#88ff44"/>
<polygon points="312.36,413.87 307.36,422.57 317.36,422.57" fill="#88ff44"/>
<polygon points="327.30,413.87 322.30,422.57 332.30,422.57" fill="#88ff44"/>
<polyline points="58.45,277.78 73.39,360.42 88.32,383.22 103.26,394.91 118.19,401.40 133.13,405.72 148.07,409.16 163.00,412.30 177.94,415.06 192.88,416.79 207.81,418.10 222.75,419.31 237.68,420.36 252.62,421.31 267.56,422.05 282.49,422.82 297.43,423.45 312.36,423.98 327.30,424.40" fill="none" stroke="#0000ff" stroke-width="0.55"/>
<polygon points="58.45,283.52 53.45,274.92 63.45,274.92" fill="#0000ff"/>
<polygon points="73.39,366.15 68.39,357.55 78.39,357.55" fill="#0000ff"/>
<polygon points="88.32,388.95 83.32,380.35 93.32,380.35" fill="#0000ff"/>
<polygon points="103.26,400.64 98.26,392.04 108.26,392.04" fill="#0000ff"/>
<polygon points="118.19,407.13 113.19,398.53 123.19,398.53" fill="#0000ff"/>
<polygon points="133.13,411.45 128.13,402.85 138.13,402.85" fill="#0000ff"/>
<polygon points="148.07,414.89 143.07,406.29 153.07,406.29" fill="#0000ff"/>
<polygon points="163.00,418.04 158.00,409.44 168.00,409.44" fill="#0000ff"/>
<polygon points="177.94,420.79 172.94,412.19 182.94,412.19" fill="#0000ff"/>
<polygon points="192.88,422.53 187.88,413.93 197.88,413.93" fill="#0000ff"/>
<polygon points="207.81,423.83 202.81,415.23 212.81,415.23" fill="#0000ff"/>
<polygon points="222.75,425.04 217.75,416.44 227.75,416.44" fill="#0000ff"/>
<polygon points="237.68,426.09 232.68,417.49 242.68,417.49" fill="#0000ff"/>
<polygon points="252.62,427.05 247.62,418.45 257.62,418.45" fill="#0000ff"/>
<polygon points="267.56,427.78 262.56,419.18 272.56,419.18" fill="#0000ff"/>
<polygon points="282.49,428.55 277.49,419.95 287.49,419.95" fill="#0000ff"/>
<polygon points="297.43,429.18 292.43,420.58 302.43,420.58" fill="#0000ff"/>
<polygon points="312.36,429.71 307.36,421.11 317.36,421.11" fill="#0000ff"/>
<polygon points="327.30,430.13 322.30,421.53 332.30,421.53" fill="#0000ff"/>
<polyline points="192.88,419.39 207.81,419.67 222.75,419.67 237.68,419.67 252.62,419.67 267.56,419.67 282.49,419.67 297.43,419.67 312.36,419.67 327.30,419.67" fill="none" stroke="#80ffff" stroke-width="0.55"/>
<polygon points="58.45,282.85 63.65,288.20 58.45,293.55 53.25,288.20" fill="#80ffff"/>
<polygon points="73.39,361.56 78.59,366.91 73.39,372.26 68.19,366.91" fill="#80ffff"/>
<polygon points="88.32,383.96 93.52,389.31 88.32,394.66 83.12,389.31" fill="#80ffff"/>
<polygon points="103.26,394.38 108.46,399.73 103.26,405.08 98.06,399.73" fill="#80ffff"/>
<polygon points="118.19,400.08 123.39,405.43 118.19,410.78 112.99,405.43" fill="#80ffff"/>
<polygon points="133.13,404.79 138.33,410.14 133.13,415.49 127.93,410.14" fill="#80ffff"/>
<polygon points="148.07,408.23 153.27,413.58 148.07,418.93 142.87,413.58" fill="#80ffff"/>
<polygon points="163.00,410.67 168.20,416.02 163.00,421.37 157.80,416.02" fill="#80ffff"/>
<polygon points="177.94,412.55 183.14,417.90 177.94,423.25 172.74,417.90" fill="#80ffff"/>
<polygon points="192.88,414.14 198.07,419.49 192.88,424.84 187.68,419.49" fill="#80ffff"/>
<polygon points="207.81,414.32 213.01,419.67 207.81,425.02 202.61,419.67" fill="#80ffff"/>
<polygon points="222.75,414.32 227.95,419.67 222.75,425.02 217.55,419.67" fill="#80ffff"/>
<polygon points="237.68,414.32 242.88,419.67 237.68,425.02 232.48,419.67" fill="#80ffff"/>
<polygon points="252.62,414.32 257.82,419.67 252.62,425.02 247.42,419.67" fill="#80ffff"/>
<polygon points="267.56,414.32 272.76,419.67 267.56,425.02 262.36,419.67" fill="#80ffff"/>
<polygon points="282.49,414.32 287.69,419.67 282.49,425.02 277.29,419.67" fill="#80ffff"/>
<polygon points="297.43,414.32 302.63,419.67 297.43,425.02 292.23,419.67" fill="#80ffff"/>
<polygon points="312.36,414.32 317.56,419.67 312.36,425.02 307.16,419.67" fill="#80ffff"/>
<polygon points="327.30,414.32 332.50,419.67 327.30,425.02 322.10,419.67" fill="#80ffff"/>
<polyline points="58.45,288.10 73.39,366.81 88.32,389.21 103.26,399.63 118.19,405.33 133.13,410.04 148.07,413.48 163.00,415.92 177.94,417.81 192.88,419.39 207.81,420.73 222.75,421.78 237.68,422.76 252.62,423.59 267.56,424.29 282.49,424.98 297.43,425.57 312.36,426.06 327.30,426.55" fill="none" stroke="#dd00ff" stroke-width="0.55"/>
<polygon points="52.32,288.10 61.52,283.40 61.52,292.80" fill="#dd00ff"/>
<polygon points="67.25,366.81 76.45,362.11 76.45,371.51" fill="#dd00ff"/>
<polygon points="82.19,389.21 91.39,384.51 91.39,393.91" fill="#dd00ff"/>
<polygon points="97.12,399.63 106.33,394.93 106.33,404.33" fill="#dd00ff"/>
<polygon points="112.06,405.33 121.26,400.63 121.26,410.03" fill="#dd00ff"/>
<polygon points="127.00,410.04 136.20,405.34 136.20,414.74" fill="#dd00ff"/>
<polygon points="141.93,413.48 151.13,408.78 151.13,418.18" fill="#dd00ff"/>
<polygon points="156.87,415.92 166.07,411.22 166.07,420.62" fill="#dd00ff"/>
<polygon points="171.81,417.81 181.01,413.11 181.01,422.51" fill="#dd00ff"/>
<polygon points="186.74,419.39 195.94,414.69 195.94,424.09" fill="#dd00ff"/>
<polygon points="201.68,420.73 210.88,416.03 210.88,425.43" fill="#dd00ff"/>
<polygon points="216.61,421.78 225.81,417.08 225.81,426.48" fill="#dd00ff"/>
<polygon points="231.55,422.76 240.75,418.06 240.75,427.46" fill="#dd00ff"/>
<polygon points="246.49,423.59 255.69,418.89 255.69,428.29" fill="#dd00ff"/>
<polygon points="261.42,424.29 270.62,419.59 270.62,428.99" fill="#dd00ff"/>
<polygon points="276.36,424.98 285.56,420.28 285.56,429.68" fill="#dd00ff"/>
<polygon points="291.29,425.57 300.49,420.87 300.49,430.27" fill="#dd00ff"/>
<polygon points="306.23,426.06 315.43,421.36 315.43,430.76" fill="#dd00ff"/>
<polygon points="321.17,426.55 330.37,421.85 330.37,431.25" fill="#dd00ff"/>
<rect x="58.45" y="242.80" width="268.85" height="186.70" fill="none" stroke="#222" stroke-width="1.0"/>
<line x1="58.45" y1="429.50" x2="58.45" y2="433.60" stroke="#222" stroke-width="1.0"/>
<line x1="58.45" y1="242.80" x2="58.45" y2="246.90" stroke="#222" stroke-width="1.0"/>
<text transform="translate(58.45,446.30) scale(0.94,1.04)" font-size="13.4" text-anchor="middle" >4</text>
<line x1="73.39" y1="429.50" x2="73.39" y2="431.80" stroke="#222" stroke-width="1.0"/>
<line x1="73.39" y1="242.80" x2="73.39" y2="245.10" stroke="#222" stroke-width="1.0"/>
<line x1="88.32" y1="429.50" x2="88.32" y2="433.60" stroke="#222" stroke-width="1.0"/>
<line x1="88.32" y1="242.80" x2="88.32" y2="246.90" stroke="#222" stroke-width="1.0"/>
<text transform="translate(88.32,446.30) scale(0.94,1.04)" font-size="13.4" text-anchor="middle" >8</text>
<line x1="103.26" y1="429.50" x2="103.26" y2="431.80" stroke="#222" stroke-width="1.0"/>
<line x1="103.26" y1="242.80" x2="103.26" y2="245.10" stroke="#222" stroke-width="1.0"/>
<line x1="118.19" y1="429.50" x2="118.19" y2="433.60" stroke="#222" stroke-width="1.0"/>
<line x1="118.19" y1="242.80" x2="118.19" y2="246.90" stroke="#222" stroke-width="1.0"/>
<text transform="translate(118.19,446.30) scale(0.94,1.04)" font-size="13.4" text-anchor="middle" >12</text>
<line x1="133.13" y1="429.50" x2="133.13" y2="431.80" stroke="#222" stroke-width="1.0"/>
<line x1="133.13" y1="242.80" x2="133.13" y2="245.10" stroke="#222" stroke-width="1.0"/>
<line x1="148.07" y1="429.50" x2="148.07" y2="433.60" stroke="#222" stroke-width="1.0"/>
<line x1="148.07" y1="242.80" x2="148.07" y2="246.90" stroke="#222" stroke-width="1.0"/>
<text transform="translate(148.07,446.30) scale(0.94,1.04)" font-size="13.4" text-anchor="middle" >16</text>
<line x1="163.00" y1="429.50" x2="163.00" y2="431.80" stroke="#222" stroke-width="1.0"/>
<line x1="163.00" y1="242.80" x2="163.00" y2="245.10" stroke="#222" stroke-width="1.0"/>
<line x1="177.94" y1="429.50" x2="177.94" y2="433.60" stroke="#222" stroke-width="1.0"/>
<line x1="177.94" y1="242.80" x2="177.94" y2="246.90" stroke="#222" stroke-width="1.0"/>
<text transform="translate(177.94,446.30) scale(0.94,1.04)" font-size="13.4" text-anchor="middle" >20</text>
<line x1="192.88" y1="429.50" x2="192.88" y2="431.80" stroke="#222" stroke-width="1.0"/>
<line x1="192.88" y1="242.80" x2="192.88" y2="245.10" stroke="#222" stroke-width="1.0"/>
<line x1="207.81" y1="429.50" x2="207.81" y2="433.60" stroke="#222" stroke-width="1.0"/>
<line x1="207.81" y1="242.80" x2="207.81" y2="246.90" stroke="#222" stroke-width="1.0"/>
<text transform="translate(207.81,446.30) scale(0.94,1.04)" font-size="13.4" text-anchor="middle" >24</text>
<line x1="222.75" y1="429.50" x2="222.75" y2="431.80" stroke="#222" stroke-width="1.0"/>
<line x1="222.75" y1="242.80" x2="222.75" y2="245.10" stroke="#222" stroke-width="1.0"/>
<line x1="237.68" y1="429.50" x2="237.68" y2="433.60" stroke="#222" stroke-width="1.0"/>
<line x1="237.68" y1="242.80" x2="237.68" y2="246.90" stroke="#222" stroke-width="1.0"/>
<text transform="translate(237.68,446.30) scale(0.94,1.04)" font-size="13.4" text-anchor="middle" >28</text>
<line x1="252.62" y1="429.50" x2="252.62" y2="431.80" stroke="#222" stroke-width="1.0"/>
<line x1="252.62" y1="242.80" x2="252.62" y2="245.10" stroke="#222" stroke-width="1.0"/>
<line x1="267.56" y1="429.50" x2="267.56" y2="433.60" stroke="#222" stroke-width="1.0"/>
<line x1="267.56" y1="242.80" x2="267.56" y2="246.90" stroke="#222" stroke-width="1.0"/>
<text transform="translate(267.56,446.30) scale(0.94,1.04)" font-size="13.4" text-anchor="middle" >32</text>
<line x1="282.49" y1="429.50" x2="282.49" y2="431.80" stroke="#222" stroke-width="1.0"/>
<line x1="282.49" y1="242.80" x2="282.49" y2="245.10" stroke="#222" stroke-width="1.0"/>
<line x1="297.43" y1="429.50" x2="297.43" y2="433.60" stroke="#222" stroke-width="1.0"/>
<line x1="297.43" y1="242.80" x2="297.43" y2="246.90" stroke="#222" stroke-width="1.0"/>
<text transform="translate(297.43,446.30) scale(0.94,1.04)" font-size="13.4" text-anchor="middle" >36</text>
<line x1="312.36" y1="429.50" x2="312.36" y2="431.80" stroke="#222" stroke-width="1.0"/>
<line x1="312.36" y1="242.80" x2="312.36" y2="245.10" stroke="#222" stroke-width="1.0"/>
<line x1="327.30" y1="429.50" x2="327.30" y2="433.60" stroke="#222" stroke-width="1.0"/>
<line x1="327.30" y1="242.80" x2="327.30" y2="246.90" stroke="#222" stroke-width="1.0"/>
<text transform="translate(327.30,446.30) scale(0.94,1.04)" font-size="13.4" text-anchor="middle" >40</text>
<line x1="54.35" y1="419.67" x2="58.45" y2="419.67" stroke="#222" stroke-width="1.0"/>
<line x1="323.20" y1="419.67" x2="327.30" y2="419.67" stroke="#222" stroke-width="1.0"/>
<text transform="translate(51.55,424.07) scale(0.94,1.04)" font-size="13.4" text-anchor="end" >1.0</text>
<line x1="56.15" y1="395.11" x2="58.45" y2="395.11" stroke="#222" stroke-width="1.0"/>
<line x1="325.00" y1="395.11" x2="327.30" y2="395.11" stroke="#222" stroke-width="1.0"/>
<line x1="54.35" y1="370.54" x2="58.45" y2="370.54" stroke="#222" stroke-width="1.0"/>
<line x1="323.20" y1="370.54" x2="327.30" y2="370.54" stroke="#222" stroke-width="1.0"/>
<text transform="translate(51.55,374.94) scale(0.94,1.04)" font-size="13.4" text-anchor="end" >1.5</text>
<line x1="56.15" y1="345.98" x2="58.45" y2="345.98" stroke="#222" stroke-width="1.0"/>
<line x1="325.00" y1="345.98" x2="327.30" y2="345.98" stroke="#222" stroke-width="1.0"/>
<line x1="54.35" y1="321.41" x2="58.45" y2="321.41" stroke="#222" stroke-width="1.0"/>
<line x1="323.20" y1="321.41" x2="327.30" y2="321.41" stroke="#222" stroke-width="1.0"/>
<text transform="translate(51.55,325.81) scale(0.94,1.04)" font-size="13.4" text-anchor="end" >2.0</text>
<line x1="56.15" y1="296.84" x2="58.45" y2="296.84" stroke="#222" stroke-width="1.0"/>
<line x1="325.00" y1="296.84" x2="327.30" y2="296.84" stroke="#222" stroke-width="1.0"/>
<line x1="54.35" y1="272.28" x2="58.45" y2="272.28" stroke="#222" stroke-width="1.0"/>
<line x1="323.20" y1="272.28" x2="327.30" y2="272.28" stroke="#222" stroke-width="1.0"/>
<text transform="translate(51.55,276.68) scale(0.94,1.04)" font-size="13.4" text-anchor="end" >2.5</text>
<line x1="56.15" y1="247.71" x2="58.45" y2="247.71" stroke="#222" stroke-width="1.0"/>
<line x1="325.00" y1="247.71" x2="327.30" y2="247.71" stroke="#222" stroke-width="1.0"/>
<text x="192.88" y="462.90" font-size="13.3" text-anchor="middle" >Number of communities</text>
<text transform="translate(8.90,353.70) rotate(-90) scale(0.98,1.0)" font-size="13.4" text-anchor="middle">Sd/S2</text>
<text transform="translate(25.90,353.70) rotate(-90) scale(0.98,1.0)" font-size="13.4" text-anchor="middle">S1/S2</text>
<text x="65.50" y="262.60" font-size="17" text-anchor="start" >(C) Significance</text>
<line x1="82.80" y1="278.40" x2="111.00" y2="278.40" stroke="#000000" stroke-width="0.55"/>
<rect x="93.45" y="274.85" width="7.10" height="7.10" fill="#000000"/>
<text x="114.00" y="282.50" font-size="12.3" text-anchor="start" >Sd/S2 (I)</text>
<line x1="82.80" y1="293.64" x2="111.00" y2="293.64" stroke="#dd0000" stroke-width="0.55"/>
<circle cx="97.00" cy="293.64" r="4.20" fill="#dd0000"/>
<text x="114.00" y="297.74" font-size="12.3" text-anchor="start" >S1/S2 (I)</text>
<line x1="82.80" y1="308.88" x2="111.00" y2="308.88" stroke="#88ff44" stroke-width="0.55"/>
<polygon points="97.00,303.08 92.00,311.78 102.00,311.78" fill="#88ff44"/>
<text x="114.00" y="312.98" font-size="12.3" text-anchor="start" >Sd/S2 (II)</text>
<line x1="82.80" y1="324.12" x2="111.00" y2="324.12" stroke="#0000ff" stroke-width="0.55"/>
<polygon points="97.00,329.85 92.00,321.25 102.00,321.25" fill="#0000ff"/>
<text x="114.00" y="328.22" font-size="12.3" text-anchor="start" >S1/S2 (II)</text>
<line x1="82.80" y1="339.36" x2="111.00" y2="339.36" stroke="#80ffff" stroke-width="0.55"/>
<polygon points="97.00,334.01 102.20,339.36 97.00,344.71 91.80,339.36" fill="#80ffff"/>
<text x="114.00" y="343.46" font-size="12.3" text-anchor="start" >Sd/S2 (III)</text>
<line x1="82.80" y1="354.60" x2="111.00" y2="354.60" stroke="#dd00ff" stroke-width="0.55"/>
<polygon points="90.87,354.60 100.07,349.90 100.07,359.30" fill="#dd00ff"/>
<text x="114.00" y="358.70" font-size="12.3" text-anchor="start" >S1/S2 (III)</text>
<rect x="190.10" y="288.80" width="131.20" height="90.80" fill="#fff" stroke="none"/>
<clipPath id="clipC"><rect x="190.10" y="288.80" width="131.20" height="90.80"/></clipPath>
<g clip-path="url(#clipC)">
<polyline points="266.63,325.12 277.57,334.20" fill="none" stroke="#000000" stroke-width="0.5"/>
<rect x="176.40" y="183.43" width="5.54" height="5.54" fill="#000000"/>
<rect x="187.33" y="208.85" width="5.54" height="5.54" fill="#000000"/>
<rect x="198.26" y="236.09" width="5.54" height="5.54" fill="#000000"/>
<rect x="209.20" y="258.79" width="5.54" height="5.54" fill="#000000"/>
<rect x="220.13" y="276.95" width="5.54" height="5.54" fill="#000000"/>
<rect x="231.06" y="291.93" width="5.54" height="5.54" fill="#000000"/>
<rect x="242.00" y="304.01" width="5.54" height="5.54" fill="#000000"/>
<rect x="252.93" y="313.63" width="5.54" height="5.54" fill="#000000"/>
<rect x="263.86" y="322.35" width="5.54" height="5.54" fill="#000000"/>
<rect x="274.80" y="331.43" width="5.54" height="5.54" fill="#000000"/>
<rect x="285.73" y="331.43" width="5.54" height="5.54" fill="#000000"/>
<rect x="296.66" y="331.43" width="5.54" height="5.54" fill="#000000"/>
<rect x="307.60" y="331.43" width="5.54" height="5.54" fill="#000000"/>
<rect x="318.53" y="331.43" width="5.54" height="5.54" fill="#000000"/>
<polyline points="124.50,-1097.72 135.43,-265.99 146.37,-34.45 157.30,77.24 168.23,140.80 179.17,186.20 190.10,211.62 201.03,238.86 211.97,261.56 222.90,279.72 233.83,294.70 244.77,306.78 255.70,316.40 266.63,325.12 277.57,333.47 288.50,339.65 299.43,346.00 310.37,351.72 321.30,356.90" fill="none" stroke="#dd0000" stroke-width="0.5"/>
<circle cx="179.17" cy="186.20" r="3.28" fill="#dd0000"/>
<circle cx="190.10" cy="211.62" r="3.28" fill="#dd0000"/>
<circle cx="201.03" cy="238.86" r="3.28" fill="#dd0000"/>
<circle cx="211.97" cy="261.56" r="3.28" fill="#dd0000"/>
<circle cx="222.90" cy="279.72" r="3.28" fill="#dd0000"/>
<circle cx="233.83" cy="294.70" r="3.28" fill="#dd0000"/>
<circle cx="244.77" cy="306.78" r="3.28" fill="#dd0000"/>
<circle cx="255.70" cy="316.40" r="3.28" fill="#dd0000"/>
<circle cx="266.63" cy="325.12" r="3.28" fill="#dd0000"/>
<circle cx="277.57" cy="333.47" r="3.28" fill="#dd0000"/>
<circle cx="288.50" cy="339.65" r="3.28" fill="#dd0000"/>
<circle cx="299.43" cy="346.00" r="3.28" fill="#dd0000"/>
<circle cx="310.37" cy="351.72" r="3.28" fill="#dd0000"/>
<circle cx="321.30" cy="356.90" r="3.28" fill="#dd0000"/>
<polyline points="244.77,330.84 255.70,334.20" fill="none" stroke="#88ff44" stroke-width="0.5"/>
<polygon points="179.17,200.74 175.27,207.53 183.07,207.53" fill="#88ff44"/>
<polygon points="190.10,232.52 186.20,239.31 194.00,239.31" fill="#88ff44"/>
<polygon points="201.03,261.58 197.13,268.36 204.93,268.36" fill="#88ff44"/>
<polygon points="211.97,287.00 208.07,293.79 215.87,293.79" fill="#88ff44"/>
<polygon points="222.90,303.07 219.00,309.86 226.80,309.86" fill="#88ff44"/>
<polygon points="233.83,315.15 229.93,321.93 237.73,321.93" fill="#88ff44"/>
<polygon points="244.77,326.32 240.87,333.10 248.67,333.10" fill="#88ff44"/>
<polygon points="255.70,329.68 251.80,336.46 259.60,336.46" fill="#88ff44"/>
<polygon points="266.63,329.68 262.73,336.46 270.53,336.46" fill="#88ff44"/>
<polygon points="277.57,329.68 273.67,336.46 281.47,336.46" fill="#88ff44"/>
<polygon points="288.50,329.68 284.60,336.46 292.40,336.46" fill="#88ff44"/>
<polygon points="299.43,329.68 295.53,336.46 303.33,336.46" fill="#88ff44"/>
<polygon points="310.37,329.68 306.47,336.46 314.27,336.46" fill="#88ff44"/>
<polygon points="321.30,329.68 317.40,336.46 325.20,336.46" fill="#88ff44"/>
<polyline points="124.50,-976.95 135.43,-213.32 146.37,-2.67 157.30,105.38 168.23,165.31 179.17,205.26 190.10,237.04 201.03,266.10 211.97,291.52 222.90,307.60 233.83,319.67 244.77,330.84 255.70,340.56 266.63,349.36 277.57,356.17 288.50,363.26 299.43,369.07 310.37,373.97 321.30,377.87" fill="none" stroke="#0000ff" stroke-width="0.5"/>
<polygon points="179.17,209.74 175.27,203.03 183.07,203.03" fill="#0000ff"/>
<polygon points="190.10,241.52 186.20,234.81 194.00,234.81" fill="#0000ff"/>
<polygon points="201.03,270.57 197.13,263.86 204.93,263.86" fill="#0000ff"/>
<polygon points="211.97,296.00 208.07,289.29 215.87,289.29" fill="#0000ff"/>
<polygon points="222.90,312.07 219.00,305.36 226.80,305.36" fill="#0000ff"/>
<polygon points="233.83,324.14 229.93,317.44 237.73,317.44" fill="#0000ff"/>
<polygon points="244.77,335.31 240.87,328.60 248.67,328.60" fill="#0000ff"/>
<polygon points="255.70,345.03 251.80,338.32 259.60,338.32" fill="#0000ff"/>
<polygon points="266.63,353.84 262.73,347.13 270.53,347.13" fill="#0000ff"/>
<polygon points="277.57,360.65 273.67,353.94 281.47,353.94" fill="#0000ff"/>
<polygon points="288.50,367.73 284.60,361.02 292.40,361.02" fill="#0000ff"/>
<polygon points="299.43,373.54 295.53,366.83 303.33,366.83" fill="#0000ff"/>
<polygon points="310.37,378.44 306.47,371.73 314.27,371.73" fill="#0000ff"/>
<polygon points="321.30,382.35 317.40,375.64 325.20,375.64" fill="#0000ff"/>
<polyline points="222.90,331.57 233.83,334.20 244.77,334.20 255.70,334.20 266.63,334.20 277.57,334.20 288.50,334.20 299.43,334.20 310.37,334.20 321.30,334.20" fill="none" stroke="#80ffff" stroke-width="0.5"/>
<polygon points="179.17,241.95 183.22,246.12 179.17,250.30 175.11,246.12" fill="#80ffff"/>
<polygon points="190.10,273.73 194.16,277.90 190.10,282.08 186.04,277.90" fill="#80ffff"/>
<polygon points="201.03,296.25 205.09,300.42 201.03,304.60 196.98,300.42" fill="#80ffff"/>
<polygon points="211.97,313.68 216.02,317.86 211.97,322.03 207.91,317.86" fill="#80ffff"/>
<polygon points="222.90,328.30 226.96,332.47 222.90,336.65 218.84,332.47" fill="#80ffff"/>
<polygon points="233.83,330.03 237.89,334.20 233.83,338.37 229.78,334.20" fill="#80ffff"/>
<polygon points="244.77,330.03 248.82,334.20 244.77,338.37 240.71,334.20" fill="#80ffff"/>
<polygon points="255.70,330.03 259.76,334.20 255.70,338.37 251.64,334.20" fill="#80ffff"/>
<polygon points="266.63,330.03 270.69,334.20 266.63,338.37 262.58,334.20" fill="#80ffff"/>
<polygon points="277.57,330.03 281.62,334.20 277.57,338.37 273.51,334.20" fill="#80ffff"/>
<polygon points="288.50,330.03 292.56,334.20 288.50,338.37 284.44,334.20" fill="#80ffff"/>
<polygon points="299.43,330.03 303.49,334.20 299.43,338.37 295.38,334.20" fill="#80ffff"/>
<polygon points="310.37,330.03 314.42,334.20 310.37,338.37 306.31,334.20" fill="#80ffff"/>
<polygon points="321.30,330.03 325.36,334.20 321.30,338.37 317.24,334.20" fill="#80ffff"/>
<polyline points="124.50,-881.61 135.43,-154.30 146.37,52.72 157.30,148.97 168.23,201.63 179.17,245.22 190.10,277.00 201.03,299.51 211.97,316.95 222.90,331.57 233.83,343.92 244.77,353.63 255.70,362.71 266.63,370.43 277.57,376.88 288.50,383.23 299.43,388.68 310.37,393.22 321.30,397.76" fill="none" stroke="#dd00ff" stroke-width="0.5"/>
<polygon points="174.38,245.22 181.56,241.55 181.56,248.88" fill="#dd00ff"/>
<polygon points="185.32,277.00 192.49,273.33 192.49,280.66" fill="#dd00ff"/>
<polygon points="196.25,299.51 203.43,295.85 203.43,303.18" fill="#dd00ff"/>
<polygon points="207.18,316.95 214.36,313.28 214.36,320.61" fill="#dd00ff"/>
<polygon points="218.12,331.57 225.29,327.90 225.29,335.23" fill="#dd00ff"/>
<polygon points="229.05,343.92 236.23,340.25 236.23,347.58" fill="#dd00ff"/>
<polygon points="239.98,353.63 247.16,349.97 247.16,357.30" fill="#dd00ff"/>
<polygon points="250.92,362.71 258.09,359.05 258.09,366.38" fill="#dd00ff"/>
<polygon points="261.85,370.43 269.03,366.76 269.03,374.10" fill="#dd00ff"/>
<polygon points="272.78,376.88 279.96,373.21 279.96,380.54" fill="#dd00ff"/>
<polygon points="283.72,383.23 290.89,379.57 290.89,386.90" fill="#dd00ff"/>
<polygon points="294.65,388.68 301.83,385.01 301.83,392.35" fill="#dd00ff"/>
<polygon points="305.58,393.22 312.76,389.55 312.76,396.89" fill="#dd00ff"/>
<polygon points="316.52,397.76 323.69,394.09 323.69,401.43" fill="#dd00ff"/>
</g>
<rect x="190.10" y="288.80" width="131.20" height="90.80" fill="none" stroke="#555" stroke-width="0.7"/>
<line x1="190.10" y1="379.60" x2="190.10" y2="381.60" stroke="#555" stroke-width="0.7"/>
<line x1="190.10" y1="288.80" x2="190.10" y2="290.80" stroke="#555" stroke-width="0.7"/>
<text x="190.10" y="390.10" font-size="9" text-anchor="middle" >16</text>
<line x1="201.03" y1="379.60" x2="201.03" y2="380.90" stroke="#555" stroke-width="0.7"/>
<line x1="201.03" y1="288.80" x2="201.03" y2="290.10" stroke="#555" stroke-width="0.7"/>
<line x1="211.97" y1="379.60" x2="211.97" y2="381.60" stroke="#555" stroke-width="0.7"/>
<line x1="211.97" y1="288.80" x2="211.97" y2="290.80" stroke="#555" stroke-width="0.7"/>
<text x="211.97" y="390.10" font-size="9" text-anchor="middle" >20</text>
<line x1="222.90" y1="379.60" x2="222.90" y2="380.90" stroke="#555" stroke-width="0.7"/>
<line x1="222.90" y1="288.80" x2="222.90" y2="290.10" stroke="#555" stroke-width="0.7"/>
<line x1="233.83" y1="379.60" x2="233.83" y2="381.60" stroke="#555" stroke-width="0.7"/>
<line x1="233.83" y1="288.80" x2="233.83" y2="290.80" stroke="#555" stroke-width="0.7"/>
<text x="233.83" y="390.10" font-size="9" text-anchor="middle" >24</text>
<line x1="244.77" y1="379.60" x2="244.77" y2="380.90" stroke="#555" stroke-width="0.7"/>
<line x1="244.77" y1="288.80" x2="244.77" y2="290.10" stroke="#555" stroke-width="0.7"/>
<line x1="255.70" y1="379.60" x2="255.70" y2="381.60" stroke="#555" stroke-width="0.7"/>
<line x1="255.70" y1="288.80" x2="255.70" y2="290.80" stroke="#555" stroke-width="0.7"/>
<text x="255.70" y="390.10" font-size="9" text-anchor="middle" >28</text>
<line x1="266.63" y1="379.60" x2="266.63" y2="380.90" stroke="#555" stroke-width="0.7"/>
<line x1="266.63" y1="288.80" x2="266.63" y2="290.10" stroke="#555" stroke-width="0.7"/>
<line x1="277.57" y1="379.60" x2="277.57" y2="381.60" stroke="#555" stroke-width="0.7"/>
<line x1="277.57" y1="288.80" x2="277.57" y2="290.80" stroke="#555" stroke-width="0.7"/>
<text x="277.57" y="390.10" font-size="9" text-anchor="middle" >32</text>
<line x1="288.50" y1="379.60" x2="288.50" y2="380.90" stroke="#555" stroke-width="0.7"/>
<line x1="288.50" y1="288.80" x2="288.50" y2="290.10" stroke="#555" stroke-width="0.7"/>
<line x1="299.43" y1="379.60" x2="299.43" y2="381.60" stroke="#555" stroke-width="0.7"/>
<line x1="299.43" y1="288.80" x2="299.43" y2="290.80" stroke="#555" stroke-width="0.7"/>
<text x="299.43" y="390.10" font-size="9" text-anchor="middle" >36</text>
<line x1="310.37" y1="379.60" x2="310.37" y2="380.90" stroke="#555" stroke-width="0.7"/>
<line x1="310.37" y1="288.80" x2="310.37" y2="290.10" stroke="#555" stroke-width="0.7"/>
<line x1="321.30" y1="379.60" x2="321.30" y2="381.60" stroke="#555" stroke-width="0.7"/>
<line x1="321.30" y1="288.80" x2="321.30" y2="290.80" stroke="#555" stroke-width="0.7"/>
<text x="321.30" y="390.10" font-size="9" text-anchor="middle" >40</text>
<line x1="188.10" y1="370.52" x2="190.10" y2="370.52" stroke="#555" stroke-width="0.7"/>
<line x1="319.30" y1="370.52" x2="321.30" y2="370.52" stroke="#555" stroke-width="0.7"/>
<text x="187.60" y="373.52" font-size="9" text-anchor="end" >0.96</text>
<line x1="188.80" y1="356.90" x2="190.10" y2="356.90" stroke="#555" stroke-width="0.7"/>
<line x1="320.00" y1="356.90" x2="321.30" y2="356.90" stroke="#555" stroke-width="0.7"/>
<line x1="188.10" y1="343.28" x2="190.10" y2="343.28" stroke="#555" stroke-width="0.7"/>
<line x1="319.30" y1="343.28" x2="321.30" y2="343.28" stroke="#555" stroke-width="0.7"/>
<text x="187.60" y="346.28" font-size="9" text-anchor="end" >0.99</text>
<line x1="188.80" y1="329.66" x2="190.10" y2="329.66" stroke="#555" stroke-width="0.7"/>
<line x1="320.00" y1="329.66" x2="321.30" y2="329.66" stroke="#555" stroke-width="0.7"/>
<line x1="188.10" y1="316.04" x2="190.10" y2="316.04" stroke="#555" stroke-width="0.7"/>
<line x1="319.30" y1="316.04" x2="321.30" y2="316.04" stroke="#555" stroke-width="0.7"/>
<text x="187.60" y="319.04" font-size="9" text-anchor="end" >1.02</text>
<line x1="188.80" y1="302.42" x2="190.10" y2="302.42" stroke="#555" stroke-width="0.7"/>
<line x1="320.00" y1="302.42" x2="321.30" y2="302.42" stroke="#555" stroke-width="0.7"/>
<line x1="188.10" y1="288.80" x2="190.10" y2="288.80" stroke="#555" stroke-width="0.7"/>
<line x1="319.30" y1="288.80" x2="321.30" y2="288.80" stroke="#555" stroke-width="0.7"/>
<text x="187.60" y="291.80" font-size="9" text-anchor="end" >1.05</text>
<polyline points="633.85,412.89 648.77,413.95" fill="none" stroke="#000000" stroke-width="0.55"/>
<rect x="406.55" y="268.29" width="7.10" height="7.10" fill="#000000"/>
<rect x="421.47" y="343.58" width="7.10" height="7.10" fill="#000000"/>
<rect x="436.38" y="368.96" width="7.10" height="7.10" fill="#000000"/>
<rect x="451.30" y="381.09" width="7.10" height="7.10" fill="#000000"/>
<rect x="466.22" y="388.53" width="7.10" height="7.10" fill="#000000"/>
<rect x="481.13" y="393.13" width="7.10" height="7.10" fill="#000000"/>
<rect x="496.05" y="396.65" width="7.10" height="7.10" fill="#000000"/>
<rect x="510.97" y="399.51" width="7.10" height="7.10" fill="#000000"/>
<rect x="525.88" y="401.69" width="7.10" height="7.10" fill="#000000"/>
<rect x="540.80" y="403.55" width="7.10" height="7.10" fill="#000000"/>
<rect x="555.72" y="405.17" width="7.10" height="7.10" fill="#000000"/>
<rect x="570.63" y="406.29" width="7.10" height="7.10" fill="#000000"/>
<rect x="585.55" y="407.22" width="7.10" height="7.10" fill="#000000"/>
<rect x="600.47" y="408.00" width="7.10" height="7.10" fill="#000000"/>
<rect x="615.38" y="408.75" width="7.10" height="7.10" fill="#000000"/>
<rect x="630.30" y="409.34" width="7.10" height="7.10" fill="#000000"/>
<rect x="645.22" y="410.40" width="7.10" height="7.10" fill="#000000"/>
<rect x="660.13" y="410.40" width="7.10" height="7.10" fill="#000000"/>
<rect x="675.05" y="410.40" width="7.10" height="7.10" fill="#000000"/>
<polyline points="410.10,271.84 425.02,347.13 439.93,372.51 454.85,384.64 469.77,392.08 484.68,396.68 499.60,400.20 514.52,403.06 529.43,405.24 544.35,407.10 559.27,408.72 574.18,409.84 589.10,410.77 604.02,411.55 618.93,412.30 633.85,412.89 648.77,413.39 663.68,413.85 678.60,414.32" fill="none" stroke="#dd0000" stroke-width="0.55"/>
<circle cx="410.10" cy="271.84" r="4.20" fill="#dd0000"/>
<circle cx="425.02" cy="347.13" r="4.20" fill="#dd0000"/>
<circle cx="439.93" cy="372.51" r="4.20" fill="#dd0000"/>
<circle cx="454.85" cy="384.64" r="4.20" fill="#dd0000"/>
<circle cx="469.77" cy="392.08" r="4.20" fill="#dd0000"/>
<circle cx="484.68" cy="396.68" r="4.20" fill="#dd0000"/>
<circle cx="499.60" cy="400.20" r="4.20" fill="#dd0000"/>
<circle cx="514.52" cy="403.06" r="4.20" fill="#dd0000"/>
<circle cx="529.43" cy="405.24" r="4.20" fill="#dd0000"/>
<circle cx="544.35" cy="407.10" r="4.20" fill="#dd0000"/>
<circle cx="559.27" cy="408.72" r="4.20" fill="#dd0000"/>
<circle cx="574.18" cy="409.84" r="4.20" fill="#dd0000"/>
<circle cx="589.10" cy="410.77" r="4.20" fill="#dd0000"/>
<circle cx="604.02" cy="411.55" r="4.20" fill="#dd0000"/>
<circle cx="618.93" cy="412.30" r="4.20" fill="#dd0000"/>
<circle cx="633.85" cy="412.89" r="4.20" fill="#dd0000"/>
<circle cx="648.77" cy="413.39" r="4.20" fill="#dd0000"/>
<circle cx="663.68" cy="413.85" r="4.20" fill="#dd0000"/>
<circle cx="678.60" cy="414.32" r="4.20" fill="#dd0000"/>
<polyline points="574.18,412.67 589.10,413.95" fill="none" stroke="#88ff44" stroke-width="0.55"/>
<polygon points="410.10,271.27 405.10,279.97 415.10,279.97" fill="#88ff44"/>
<polygon points="425.02,345.21 420.02,353.91 430.02,353.91" fill="#88ff44"/>
<polygon points="439.93,369.01 434.93,377.71 444.93,377.71" fill="#88ff44"/>
<polygon points="454.85,380.77 449.85,389.47 459.85,389.47" fill="#88ff44"/>
<polygon points="469.77,387.58 464.77,396.28 474.77,396.28" fill="#88ff44"/>
<polygon points="484.68,392.50 479.68,401.20 489.68,401.20" fill="#88ff44"/>
<polygon points="499.60,396.64 494.60,405.34 504.60,405.34" fill="#88ff44"/>
<polygon points="514.52,400.68 509.52,409.38 519.52,409.38" fill="#88ff44"/>
<polygon points="529.43,402.92 524.43,411.62 534.43,411.62" fill="#88ff44"/>
<polygon points="544.35,404.54 539.35,413.24 549.35,413.24" fill="#88ff44"/>
<polygon points="559.27,405.78 554.27,414.48 564.27,414.48" fill="#88ff44"/>
<polygon points="574.18,406.87 569.18,415.57 579.18,415.57" fill="#88ff44"/>
<polygon points="589.10,408.15 584.10,416.85 594.10,416.85" fill="#88ff44"/>
<polygon points="604.02,408.15 599.02,416.85 609.02,416.85" fill="#88ff44"/>
<polygon points="618.93,408.15 613.93,416.85 623.93,416.85" fill="#88ff44"/>
<polygon points="633.85,408.15 628.85,416.85 638.85,416.85" fill="#88ff44"/>
<polygon points="648.77,408.15 643.77,416.85 653.77,416.85" fill="#88ff44"/>
<polygon points="663.68,408.15 658.68,416.85 668.68,416.85" fill="#88ff44"/>
<polygon points="678.60,408.15 673.60,416.85 683.60,416.85" fill="#88ff44"/>
<polyline points="410.10,277.07 425.02,351.01 439.93,374.81 454.85,386.57 469.77,393.38 484.68,398.30 499.60,402.44 514.52,406.48 529.43,408.72 544.35,410.34 559.27,411.58 574.18,412.67 589.10,413.70 604.02,414.41 618.93,415.19 633.85,415.78 648.77,416.31 663.68,416.84 678.60,417.21" fill="none" stroke="#0000ff" stroke-width="0.55"/>
<polygon points="410.10,282.80 405.10,274.20 415.10,274.20" fill="#0000ff"/>
<polygon points="425.02,356.75 420.02,348.15 430.02,348.15" fill="#0000ff"/>
<polygon points="439.93,380.54 434.93,371.94 444.93,371.94" fill="#0000ff"/>
<polygon points="454.85,392.30 449.85,383.70 459.85,383.70" fill="#0000ff"/>
<polygon points="469.77,399.12 464.77,390.52 474.77,390.52" fill="#0000ff"/>
<polygon points="484.68,404.03 479.68,395.43 489.68,395.43" fill="#0000ff"/>
<polygon points="499.60,408.17 494.60,399.57 504.60,399.57" fill="#0000ff"/>
<polygon points="514.52,412.21 509.52,403.61 519.52,403.61" fill="#0000ff"/>
<polygon points="529.43,414.45 524.43,405.85 534.43,405.85" fill="#0000ff"/>
<polygon points="544.35,416.07 539.35,407.47 549.35,407.47" fill="#0000ff"/>
<polygon points="559.27,417.31 554.27,408.71 564.27,408.71" fill="#0000ff"/>
<polygon points="574.18,418.40 569.18,409.80 579.18,409.80" fill="#0000ff"/>
<polygon points="589.10,419.43 584.10,410.83 594.10,410.83" fill="#0000ff"/>
<polygon points="604.02,420.15 599.02,411.55 609.02,411.55" fill="#0000ff"/>
<polygon points="618.93,420.92 613.93,412.32 623.93,412.32" fill="#0000ff"/>
<polygon points="633.85,421.51 628.85,412.91 638.85,412.91" fill="#0000ff"/>
<polygon points="648.77,422.04 643.77,413.44 653.77,413.44" fill="#0000ff"/>
<polygon points="663.68,422.57 658.68,413.97 668.68,413.97" fill="#0000ff"/>
<polygon points="678.60,422.95 673.60,414.35 683.60,414.35" fill="#0000ff"/>
<polyline points="529.43,411.46 544.35,413.95 559.27,413.95 574.18,413.95 589.10,413.95 604.02,413.95 618.93,413.95 633.85,413.95 648.77,413.95 663.68,413.95 678.60,413.95" fill="none" stroke="#80ffff" stroke-width="0.55"/>
<polygon points="410.10,278.25 415.30,283.60 410.10,288.95 404.90,283.60" fill="#80ffff"/>
<polygon points="425.02,350.11 430.22,355.46 425.02,360.81 419.82,355.46" fill="#80ffff"/>
<polygon points="439.93,375.12 445.13,380.47 439.93,385.82 434.73,380.47" fill="#80ffff"/>
<polygon points="454.85,386.85 460.05,392.20 454.85,397.55 449.65,392.20" fill="#80ffff"/>
<polygon points="469.77,393.48 474.97,398.83 469.77,404.18 464.57,398.83" fill="#80ffff"/>
<polygon points="484.68,398.45 489.88,403.80 484.68,409.15 479.48,403.80" fill="#80ffff"/>
<polygon points="499.60,402.31 504.80,407.66 499.60,413.01 494.40,407.66" fill="#80ffff"/>
<polygon points="514.52,404.27 519.72,409.62 514.52,414.97 509.32,409.62" fill="#80ffff"/>
<polygon points="529.43,406.23 534.63,411.58 529.43,416.93 524.23,411.58" fill="#80ffff"/>
<polygon points="544.35,408.60 549.55,413.95 544.35,419.30 539.15,413.95" fill="#80ffff"/>
<polygon points="559.27,408.60 564.47,413.95 559.27,419.30 554.07,413.95" fill="#80ffff"/>
<polygon points="574.18,408.60 579.38,413.95 574.18,419.30 568.98,413.95" fill="#80ffff"/>
<polygon points="589.10,408.60 594.30,413.95 589.10,419.30 583.90,413.95" fill="#80ffff"/>
<polygon points="604.02,408.60 609.22,413.95 604.02,419.30 598.82,413.95" fill="#80ffff"/>
<polygon points="618.93,408.60 624.13,413.95 618.93,419.30 613.73,413.95" fill="#80ffff"/>
<polygon points="633.85,408.60 639.05,413.95 633.85,419.30 628.65,413.95" fill="#80ffff"/>
<polygon points="648.77,408.60 653.97,413.95 648.77,419.30 643.57,413.95" fill="#80ffff"/>
<polygon points="663.68,408.60 668.88,413.95 663.68,419.30 658.48,413.95" fill="#80ffff"/>
<polygon points="678.60,408.60 683.80,413.95 678.60,419.30 673.40,413.95" fill="#80ffff"/>
<polyline points="410.10,283.48 425.02,355.34 439.93,380.35 454.85,392.08 469.77,398.70 484.68,403.68 499.60,407.54 514.52,409.50 529.43,411.46 544.35,413.07 559.27,414.51 574.18,415.63 589.10,416.56 604.02,417.24 618.93,417.96 633.85,418.58 648.77,419.08 663.68,419.51 678.60,419.92" fill="none" stroke="#dd00ff" stroke-width="0.55"/>
<polygon points="403.97,283.48 413.17,278.78 413.17,288.18" fill="#dd00ff"/>
<polygon points="418.88,355.34 428.08,350.64 428.08,360.04" fill="#dd00ff"/>
<polygon points="433.80,380.35 443.00,375.65 443.00,385.05" fill="#dd00ff"/>
<polygon points="448.72,392.08 457.92,387.38 457.92,396.78" fill="#dd00ff"/>
<polygon points="463.63,398.70 472.83,394.00 472.83,403.40" fill="#dd00ff"/>
<polygon points="478.55,403.68 487.75,398.98 487.75,408.38" fill="#dd00ff"/>
<polygon points="493.47,407.54 502.67,402.84 502.67,412.24" fill="#dd00ff"/>
<polygon points="508.38,409.50 517.58,404.80 517.58,414.20" fill="#dd00ff"/>
<polygon points="523.30,411.46 532.50,406.76 532.50,416.16" fill="#dd00ff"/>
<polygon points="538.22,413.07 547.42,408.37 547.42,417.77" fill="#dd00ff"/>
<polygon points="553.13,414.51 562.33,409.81 562.33,419.21" fill="#dd00ff"/>
<polygon points="568.05,415.63 577.25,410.93 577.25,420.33" fill="#dd00ff"/>
<polygon points="582.97,416.56 592.17,411.86 592.17,421.26" fill="#dd00ff"/>
<polygon points="597.88,417.24 607.08,412.54 607.08,421.94" fill="#dd00ff"/>
<polygon points="612.80,417.96 622.00,413.26 622.00,422.66" fill="#dd00ff"/>
<polygon points="627.72,418.58 636.92,413.88 636.92,423.28" fill="#dd00ff"/>
<polygon points="642.63,419.08 651.83,414.38 651.83,423.78" fill="#dd00ff"/>
<polygon points="657.55,419.51 666.75,414.81 666.75,424.21" fill="#dd00ff"/>
<polygon points="672.47,419.92 681.67,415.22 681.67,424.62" fill="#dd00ff"/>
<rect x="410.10" y="242.85" width="268.50" height="186.65" fill="none" stroke="#222" stroke-width="1.0"/>
<line x1="410.10" y1="429.50" x2="410.10" y2="433.60" stroke="#222" stroke-width="1.0"/>
<line x1="410.10" y1="242.85" x2="410.10" y2="246.95" stroke="#222" stroke-width="1.0"/>
<text transform="translate(410.10,446.30) scale(0.94,1.04)" font-size="13.4" text-anchor="middle" >4</text>
<line x1="425.02" y1="429.50" x2="425.02" y2="431.80" stroke="#222" stroke-width="1.0"/>
<line x1="425.02" y1="242.85" x2="425.02" y2="245.15" stroke="#222" stroke-width="1.0"/>
<line x1="439.93" y1="429.50" x2="439.93" y2="433.60" stroke="#222" stroke-width="1.0"/>
<line x1="439.93" y1="242.85" x2="439.93" y2="246.95" stroke="#222" stroke-width="1.0"/>
<text transform="translate(439.93,446.30) scale(0.94,1.04)" font-size="13.4" text-anchor="middle" >8</text>
<line x1="454.85" y1="429.50" x2="454.85" y2="431.80" stroke="#222" stroke-width="1.0"/>
<line x1="454.85" y1="242.85" x2="454.85" y2="245.15" stroke="#222" stroke-width="1.0"/>
<line x1="469.77" y1="429.50" x2="469.77" y2="433.60" stroke="#222" stroke-width="1.0"/>
<line x1="469.77" y1="242.85" x2="469.77" y2="246.95" stroke="#222" stroke-width="1.0"/>
<text transform="translate(469.77,446.30) scale(0.94,1.04)" font-size="13.4" text-anchor="middle" >12</text>
<line x1="484.68" y1="429.50" x2="484.68" y2="431.80" stroke="#222" stroke-width="1.0"/>
<line x1="484.68" y1="242.85" x2="484.68" y2="245.15" stroke="#222" stroke-width="1.0"/>
<line x1="499.60" y1="429.50" x2="499.60" y2="433.60" stroke="#222" stroke-width="1.0"/>
<line x1="499.60" y1="242.85" x2="499.60" y2="246.95" stroke="#222" stroke-width="1.0"/>
<text transform="translate(499.60,446.30) scale(0.94,1.04)" font-size="13.4" text-anchor="middle" >16</text>
<line x1="514.52" y1="429.50" x2="514.52" y2="431.80" stroke="#222" stroke-width="1.0"/>
<line x1="514.52" y1="242.85" x2="514.52" y2="245.15" stroke="#222" stroke-width="1.0"/>
<line x1="529.43" y1="429.50" x2="529.43" y2="433.60" stroke="#222" stroke-width="1.0"/>
<line x1="529.43" y1="242.85" x2="529.43" y2="246.95" stroke="#222" stroke-width="1.0"/>
<text transform="translate(529.43,446.30) scale(0.94,1.04)" font-size="13.4" text-anchor="middle" >20</text>
<line x1="544.35" y1="429.50" x2="544.35" y2="431.80" stroke="#222" stroke-width="1.0"/>
<line x1="544.35" y1="242.85" x2="544.35" y2="245.15" stroke="#222" stroke-width="1.0"/>
<line x1="559.27" y1="429.50" x2="559.27" y2="433.60" stroke="#222" stroke-width="1.0"/>
<line x1="559.27" y1="242.85" x2="559.27" y2="246.95" stroke="#222" stroke-width="1.0"/>
<text transform="translate(559.27,446.30) scale(0.94,1.04)" font-size="13.4" text-anchor="middle" >24</text>
<line x1="574.18" y1="429.50" x2="574.18" y2="431.80" stroke="#222" stroke-width="1.0"/>
<line x1="574.18" y1="242.85" x2="574.18" y2="245.15" stroke="#222" stroke-width="1.0"/>
<line x1="589.10" y1="429.50" x2="589.10" y2="433.60" stroke="#222" stroke-width="1.0"/>
<line x1="589.10" y1="242.85" x2="589.10" y2="246.95" stroke="#222" stroke-width="1.0"/>
<text transform="translate(589.10,446.30) scale(0.94,1.04)" font-size="13.4" text-anchor="middle" >28</text>
<line x1="604.02" y1="429.50" x2="604.02" y2="431.80" stroke="#222" stroke-width="1.0"/>
<line x1="604.02" y1="242.85" x2="604.02" y2="245.15" stroke="#222" stroke-width="1.0"/>
<line x1="618.93" y1="429.50" x2="618.93" y2="433.60" stroke="#222" stroke-width="1.0"/>
<line x1="618.93" y1="242.85" x2="618.93" y2="246.95" stroke="#222" stroke-width="1.0"/>
<text transform="translate(618.93,446.30) scale(0.94,1.04)" font-size="13.4" text-anchor="middle" >32</text>
<line x1="633.85" y1="429.50" x2="633.85" y2="431.80" stroke="#222" stroke-width="1.0"/>
<line x1="633.85" y1="242.85" x2="633.85" y2="245.15" stroke="#222" stroke-width="1.0"/>
<line x1="648.77" y1="429.50" x2="648.77" y2="433.60" stroke="#222" stroke-width="1.0"/>
<line x1="648.77" y1="242.85" x2="648.77" y2="246.95" stroke="#222" stroke-width="1.0"/>
<text transform="translate(648.77,446.30) scale(0.94,1.04)" font-size="13.4" text-anchor="middle" >36</text>
<line x1="663.68" y1="429.50" x2="663.68" y2="431.80" stroke="#222" stroke-width="1.0"/>
<line x1="663.68" y1="242.85" x2="663.68" y2="245.15" stroke="#222" stroke-width="1.0"/>
<line x1="678.60" y1="429.50" x2="678.60" y2="433.60" stroke="#222" stroke-width="1.0"/>
<line x1="678.60" y1="242.85" x2="678.60" y2="246.95" stroke="#222" stroke-width="1.0"/>
<text transform="translate(678.60,446.30) scale(0.94,1.04)" font-size="13.4" text-anchor="middle" >40</text>
<line x1="406.00" y1="413.95" x2="410.10" y2="413.95" stroke="#222" stroke-width="1.0"/>
<line x1="674.50" y1="413.95" x2="678.60" y2="413.95" stroke="#222" stroke-width="1.0"/>
<text transform="translate(403.20,418.35) scale(0.94,1.04)" font-size="13.4" text-anchor="end" >1.0</text>
<line x1="407.80" y1="382.84" x2="410.10" y2="382.84" stroke="#222" stroke-width="1.0"/>
<line x1="676.30" y1="382.84" x2="678.60" y2="382.84" stroke="#222" stroke-width="1.0"/>
<line x1="406.00" y1="351.73" x2="410.10" y2="351.73" stroke="#222" stroke-width="1.0"/>
<line x1="674.50" y1="351.73" x2="678.60" y2="351.73" stroke="#222" stroke-width="1.0"/>
<text transform="translate(403.20,356.13) scale(0.94,1.04)" font-size="13.4" text-anchor="end" >1.2</text>
<line x1="407.80" y1="320.62" x2="410.10" y2="320.62" stroke="#222" stroke-width="1.0"/>
<line x1="676.30" y1="320.62" x2="678.60" y2="320.62" stroke="#222" stroke-width="1.0"/>
<line x1="406.00" y1="289.51" x2="410.10" y2="289.51" stroke="#222" stroke-width="1.0"/>
<line x1="674.50" y1="289.51" x2="678.60" y2="289.51" stroke="#222" stroke-width="1.0"/>
<text transform="translate(403.20,293.91) scale(0.94,1.04)" font-size="13.4" text-anchor="end" >1.4</text>
<line x1="407.80" y1="258.40" x2="410.10" y2="258.40" stroke="#222" stroke-width="1.0"/>
<line x1="676.30" y1="258.40" x2="678.60" y2="258.40" stroke="#222" stroke-width="1.0"/>
<text x="544.35" y="462.90" font-size="13.3" text-anchor="middle" >Number of communities</text>
<text transform="translate(361.00,353.70) rotate(-90) scale(0.98,1.0)" font-size="13.4" text-anchor="middle">Qd/Q2</text>
<text transform="translate(378.10,353.70) rotate(-90) scale(0.98,1.0)" font-size="13.4" text-anchor="middle">Q1/Q2</text>
<text x="415.50" y="263.20" font-size="17" text-anchor="start" >(D) Modularity</text>
<line x1="434.10" y1="278.40" x2="462.30" y2="278.40" stroke="#000000" stroke-width="0.55"/>
<rect x="444.75" y="274.85" width="7.10" height="7.10" fill="#000000"/>
<text x="465.30" y="282.50" font-size="12.3" text-anchor="start" >Qd/Q2 (I)</text>
<line x1="434.10" y1="293.64" x2="462.30" y2="293.64" stroke="#dd0000" stroke-width="0.55"/>
<circle cx="448.30" cy="293.64" r="4.20" fill="#dd0000"/>
<text x="465.30" y="297.74" font-size="12.3" text-anchor="start" >Q1/Q2 (I)</text>
<line x1="434.10" y1="308.88" x2="462.30" y2="308.88" stroke="#88ff44" stroke-width="0.55"/>
<polygon points="448.30,303.08 443.30,311.78 453.30,311.78" fill="#88ff44"/>
<text x="465.30" y="312.98" font-size="12.3" text-anchor="start" >Qd/Q2 (II)</text>
<line x1="434.10" y1="324.12" x2="462.30" y2="324.12" stroke="#0000ff" stroke-width="0.55"/>
<polygon points="448.30,329.85 443.30,321.25 453.30,321.25" fill="#0000ff"/>
<text x="465.30" y="328.22" font-size="12.3" text-anchor="start" >Q1/Q2 (II)</text>
<line x1="434.10" y1="339.36" x2="462.30" y2="339.36" stroke="#80ffff" stroke-width="0.55"/>
<polygon points="448.30,334.01 453.50,339.36 448.30,344.71 443.10,339.36" fill="#80ffff"/>
<text x="465.30" y="343.46" font-size="12.3" text-anchor="start" >Qd/Q2 (III)</text>
<line x1="434.10" y1="354.60" x2="462.30" y2="354.60" stroke="#dd00ff" stroke-width="0.55"/>
<polygon points="442.17,354.60 451.37,349.90 451.37,359.30" fill="#dd00ff"/>
<text x="465.30" y="358.70" font-size="12.3" text-anchor="start" >Q1/Q2 (III)</text>
<rect x="547.20" y="288.60" width="125.00" height="90.30" fill="#fff" stroke="none"/>
<clipPath id="clipD"><rect x="547.20" y="288.60" width="125.00" height="90.30"/></clipPath>
<g clip-path="url(#clipD)">
<polyline points="640.95,326.07 651.37,333.75" fill="none" stroke="#000000" stroke-width="0.5"/>
<rect x="534.01" y="205.69" width="5.54" height="5.54" fill="#000000"/>
<rect x="544.43" y="231.20" width="5.54" height="5.54" fill="#000000"/>
<rect x="554.85" y="251.97" width="5.54" height="5.54" fill="#000000"/>
<rect x="565.26" y="267.77" width="5.54" height="5.54" fill="#000000"/>
<rect x="575.68" y="281.32" width="5.54" height="5.54" fill="#000000"/>
<rect x="586.10" y="293.06" width="5.54" height="5.54" fill="#000000"/>
<rect x="596.51" y="301.18" width="5.54" height="5.54" fill="#000000"/>
<rect x="606.93" y="307.95" width="5.54" height="5.54" fill="#000000"/>
<rect x="617.35" y="313.60" width="5.54" height="5.54" fill="#000000"/>
<rect x="627.76" y="319.02" width="5.54" height="5.54" fill="#000000"/>
<rect x="638.18" y="323.31" width="5.54" height="5.54" fill="#000000"/>
<rect x="648.60" y="330.98" width="5.54" height="5.54" fill="#000000"/>
<rect x="659.01" y="330.98" width="5.54" height="5.54" fill="#000000"/>
<rect x="669.43" y="330.98" width="5.54" height="5.54" fill="#000000"/>
<polyline points="484.70,-697.48 495.12,-151.16 505.53,33.05 515.95,121.09 526.37,175.05 536.78,208.46 547.20,233.97 557.62,254.74 568.03,270.54 578.45,284.09 588.87,295.82 599.28,303.95 609.70,310.72 620.12,316.37 630.53,321.79 640.95,326.07 651.37,329.69 661.78,333.07 672.20,336.46" fill="none" stroke="#dd0000" stroke-width="0.5"/>
<circle cx="536.78" cy="208.46" r="3.28" fill="#dd0000"/>
<circle cx="547.20" cy="233.97" r="3.28" fill="#dd0000"/>
<circle cx="557.62" cy="254.74" r="3.28" fill="#dd0000"/>
<circle cx="568.03" cy="270.54" r="3.28" fill="#dd0000"/>
<circle cx="578.45" cy="284.09" r="3.28" fill="#dd0000"/>
<circle cx="588.87" cy="295.82" r="3.28" fill="#dd0000"/>
<circle cx="599.28" cy="303.95" r="3.28" fill="#dd0000"/>
<circle cx="609.70" cy="310.72" r="3.28" fill="#dd0000"/>
<circle cx="620.12" cy="316.37" r="3.28" fill="#dd0000"/>
<circle cx="630.53" cy="321.79" r="3.28" fill="#dd0000"/>
<circle cx="640.95" cy="326.07" r="3.28" fill="#dd0000"/>
<circle cx="651.37" cy="329.69" r="3.28" fill="#dd0000"/>
<circle cx="661.78" cy="333.07" r="3.28" fill="#dd0000"/>
<circle cx="672.20" cy="336.46" r="3.28" fill="#dd0000"/>
<polyline points="599.28,324.49 609.70,333.75" fill="none" stroke="#88ff44" stroke-width="0.5"/>
<polygon points="536.78,215.67 532.88,222.46 540.68,222.46" fill="#88ff44"/>
<polygon points="547.20,245.70 543.30,252.48 551.10,252.48" fill="#88ff44"/>
<polygon points="557.62,275.05 553.72,281.83 561.52,281.83" fill="#88ff44"/>
<polygon points="568.03,291.30 564.13,298.09 571.93,298.09" fill="#88ff44"/>
<polygon points="578.45,303.04 574.55,309.82 582.35,309.82" fill="#88ff44"/>
<polygon points="588.87,312.07 584.97,318.85 592.77,318.85" fill="#88ff44"/>
<polygon points="599.28,319.97 595.38,326.76 603.18,326.76" fill="#88ff44"/>
<polygon points="609.70,329.23 605.80,336.01 613.60,336.01" fill="#88ff44"/>
<polygon points="620.12,329.23 616.22,336.01 624.02,336.01" fill="#88ff44"/>
<polygon points="630.53,329.23 626.63,336.01 634.43,336.01" fill="#88ff44"/>
<polygon points="640.95,329.23 637.05,336.01 644.85,336.01" fill="#88ff44"/>
<polygon points="651.37,329.23 647.47,336.01 655.27,336.01" fill="#88ff44"/>
<polygon points="661.78,329.23 657.88,336.01 665.68,336.01" fill="#88ff44"/>
<polygon points="672.20,329.23 668.30,336.01 676.10,336.01" fill="#88ff44"/>
<polyline points="484.70,-659.55 495.12,-122.94 505.53,49.76 515.95,135.09 526.37,184.53 536.78,220.20 547.20,250.22 557.62,279.57 568.03,295.82 578.45,307.56 588.87,316.59 599.28,324.49 609.70,331.94 620.12,337.14 630.53,342.78 640.95,347.07 651.37,350.91 661.78,354.74 672.20,357.45" fill="none" stroke="#0000ff" stroke-width="0.5"/>
<polygon points="536.78,224.67 532.88,217.96 540.68,217.96" fill="#0000ff"/>
<polygon points="547.20,254.69 543.30,247.99 551.10,247.99" fill="#0000ff"/>
<polygon points="557.62,284.04 553.72,277.33 561.52,277.33" fill="#0000ff"/>
<polygon points="568.03,300.30 564.13,293.59 571.93,293.59" fill="#0000ff"/>
<polygon points="578.45,312.03 574.55,305.33 582.35,305.33" fill="#0000ff"/>
<polygon points="588.87,321.06 584.97,314.36 592.77,314.36" fill="#0000ff"/>
<polygon points="599.28,328.97 595.38,322.26 603.18,322.26" fill="#0000ff"/>
<polygon points="609.70,336.42 605.80,329.71 613.60,329.71" fill="#0000ff"/>
<polygon points="620.12,341.61 616.22,334.90 624.02,334.90" fill="#0000ff"/>
<polygon points="630.53,347.25 626.63,340.54 634.43,340.54" fill="#0000ff"/>
<polygon points="640.95,351.54 637.05,344.83 644.85,344.83" fill="#0000ff"/>
<polygon points="651.37,355.38 647.47,348.67 655.27,348.67" fill="#0000ff"/>
<polygon points="661.78,359.22 657.88,352.51 665.68,352.51" fill="#0000ff"/>
<polygon points="672.20,361.93 668.30,355.22 676.10,355.22" fill="#0000ff"/>
<polyline points="568.03,315.69 578.45,333.75 588.87,333.75 599.28,333.75 609.70,333.75 620.12,333.75 630.53,333.75 640.95,333.75 651.37,333.75 661.78,333.75 672.20,333.75" fill="none" stroke="#80ffff" stroke-width="0.5"/>
<polygon points="536.78,255.98 540.84,260.16 536.78,264.33 532.73,260.16" fill="#80ffff"/>
<polygon points="547.20,283.98 551.26,288.15 547.20,292.32 543.14,288.15" fill="#80ffff"/>
<polygon points="557.62,298.20 561.67,302.37 557.62,306.54 553.56,302.37" fill="#80ffff"/>
<polygon points="568.03,312.42 572.09,316.59 568.03,320.77 563.98,316.59" fill="#80ffff"/>
<polygon points="578.45,329.58 582.51,333.75 578.45,337.92 574.39,333.75" fill="#80ffff"/>
<polygon points="588.87,329.58 592.92,333.75 588.87,337.92 584.81,333.75" fill="#80ffff"/>
<polygon points="599.28,329.58 603.34,333.75 599.28,337.92 595.23,333.75" fill="#80ffff"/>
<polygon points="609.70,329.58 613.76,333.75 609.70,337.92 605.64,333.75" fill="#80ffff"/>
<polygon points="620.12,329.58 624.17,333.75 620.12,337.92 616.06,333.75" fill="#80ffff"/>
<polygon points="630.53,329.58 634.59,333.75 630.53,337.92 626.48,333.75" fill="#80ffff"/>
<polygon points="640.95,329.58 645.01,333.75 640.95,337.92 636.89,333.75" fill="#80ffff"/>
<polygon points="651.37,329.58 655.42,333.75 651.37,337.92 647.31,333.75" fill="#80ffff"/>
<polygon points="661.78,329.58 665.84,333.75 661.78,337.92 657.73,333.75" fill="#80ffff"/>
<polygon points="672.20,329.58 676.26,333.75 672.20,337.92 668.14,333.75" fill="#80ffff"/>
<polyline points="484.70,-613.05 495.12,-91.56 505.53,89.94 515.95,175.05 526.37,223.13 536.78,259.25 547.20,287.25 557.62,301.47 568.03,315.69 578.45,327.43 588.87,337.81 599.28,345.94 609.70,352.71 620.12,357.68 630.53,362.87 640.95,367.39 651.37,371.00 661.78,374.16 672.20,377.09" fill="none" stroke="#dd00ff" stroke-width="0.5"/>
<polygon points="532.00,259.25 539.18,255.59 539.18,262.92" fill="#dd00ff"/>
<polygon points="542.42,287.25 549.59,283.58 549.59,290.91" fill="#dd00ff"/>
<polygon points="552.83,301.47 560.01,297.80 560.01,305.13" fill="#dd00ff"/>
<polygon points="563.25,315.69 570.43,312.02 570.43,319.36" fill="#dd00ff"/>
<polygon points="573.67,327.43 580.84,323.76 580.84,331.10" fill="#dd00ff"/>
<polygon points="584.08,337.81 591.26,334.15 591.26,341.48" fill="#dd00ff"/>
<polygon points="594.50,345.94 601.68,342.27 601.68,349.61" fill="#dd00ff"/>
<polygon points="604.92,352.71 612.09,349.05 612.09,356.38" fill="#dd00ff"/>
<polygon points="615.33,357.68 622.51,354.01 622.51,361.35" fill="#dd00ff"/>
<polygon points="625.75,362.87 632.93,359.21 632.93,366.54" fill="#dd00ff"/>
<polygon points="636.17,367.39 643.34,363.72 643.34,371.05" fill="#dd00ff"/>
<polygon points="646.58,371.00 653.76,367.33 653.76,374.66" fill="#dd00ff"/>
<polygon points="657.00,374.16 664.18,370.49 664.18,377.83" fill="#dd00ff"/>
<polygon points="667.42,377.09 674.59,373.43 674.59,380.76" fill="#dd00ff"/>
</g>
<rect x="547.20" y="288.60" width="125.00" height="90.30" fill="none" stroke="#555" stroke-width="0.7"/>
<line x1="547.20" y1="378.90" x2="547.20" y2="380.90" stroke="#555" stroke-width="0.7"/>
<line x1="547.20" y1="288.60" x2="547.20" y2="290.60" stroke="#555" stroke-width="0.7"/>
<text x="547.20" y="389.40" font-size="9" text-anchor="middle" >16</text>
<line x1="557.62" y1="378.90" x2="557.62" y2="380.20" stroke="#555" stroke-width="0.7"/>
<line x1="557.62" y1="288.60" x2="557.62" y2="289.90" stroke="#555" stroke-width="0.7"/>
<line x1="568.03" y1="378.90" x2="568.03" y2="380.90" stroke="#555" stroke-width="0.7"/>
<line x1="568.03" y1="288.60" x2="568.03" y2="290.60" stroke="#555" stroke-width="0.7"/>
<text x="568.03" y="389.40" font-size="9" text-anchor="middle" >20</text>
<line x1="578.45" y1="378.90" x2="578.45" y2="380.20" stroke="#555" stroke-width="0.7"/>
<line x1="578.45" y1="288.60" x2="578.45" y2="289.90" stroke="#555" stroke-width="0.7"/>
<line x1="588.87" y1="378.90" x2="588.87" y2="380.90" stroke="#555" stroke-width="0.7"/>
<line x1="588.87" y1="288.60" x2="588.87" y2="290.60" stroke="#555" stroke-width="0.7"/>
<text x="588.87" y="389.40" font-size="9" text-anchor="middle" >24</text>
<line x1="599.28" y1="378.90" x2="599.28" y2="380.20" stroke="#555" stroke-width="0.7"/>
<line x1="599.28" y1="288.60" x2="599.28" y2="289.90" stroke="#555" stroke-width="0.7"/>
<line x1="609.70" y1="378.90" x2="609.70" y2="380.90" stroke="#555" stroke-width="0.7"/>
<line x1="609.70" y1="288.60" x2="609.70" y2="290.60" stroke="#555" stroke-width="0.7"/>
<text x="609.70" y="389.40" font-size="9" text-anchor="middle" >28</text>
<line x1="620.12" y1="378.90" x2="620.12" y2="380.20" stroke="#555" stroke-width="0.7"/>
<line x1="620.12" y1="288.60" x2="620.12" y2="289.90" stroke="#555" stroke-width="0.7"/>
<line x1="630.53" y1="378.90" x2="630.53" y2="380.90" stroke="#555" stroke-width="0.7"/>
<line x1="630.53" y1="288.60" x2="630.53" y2="290.60" stroke="#555" stroke-width="0.7"/>
<text x="630.53" y="389.40" font-size="9" text-anchor="middle" >32</text>
<line x1="640.95" y1="378.90" x2="640.95" y2="380.20" stroke="#555" stroke-width="0.7"/>
<line x1="640.95" y1="288.60" x2="640.95" y2="289.90" stroke="#555" stroke-width="0.7"/>
<line x1="651.37" y1="378.90" x2="651.37" y2="380.90" stroke="#555" stroke-width="0.7"/>
<line x1="651.37" y1="288.60" x2="651.37" y2="290.60" stroke="#555" stroke-width="0.7"/>
<text x="651.37" y="389.40" font-size="9" text-anchor="middle" >36</text>
<line x1="661.78" y1="378.90" x2="661.78" y2="380.20" stroke="#555" stroke-width="0.7"/>
<line x1="661.78" y1="288.60" x2="661.78" y2="289.90" stroke="#555" stroke-width="0.7"/>
<line x1="672.20" y1="378.90" x2="672.20" y2="380.90" stroke="#555" stroke-width="0.7"/>
<line x1="672.20" y1="288.60" x2="672.20" y2="290.60" stroke="#555" stroke-width="0.7"/>
<text x="672.20" y="389.40" font-size="9" text-anchor="middle" >40</text>
<line x1="545.20" y1="378.90" x2="547.20" y2="378.90" stroke="#555" stroke-width="0.7"/>
<line x1="670.20" y1="378.90" x2="672.20" y2="378.90" stroke="#555" stroke-width="0.7"/>
<text x="544.70" y="381.90" font-size="9" text-anchor="end" >0.98</text>
<line x1="545.90" y1="367.61" x2="547.20" y2="367.61" stroke="#555" stroke-width="0.7"/>
<line x1="670.90" y1="367.61" x2="672.20" y2="367.61" stroke="#555" stroke-width="0.7"/>
<line x1="545.20" y1="356.32" x2="547.20" y2="356.32" stroke="#555" stroke-width="0.7"/>
<line x1="670.20" y1="356.32" x2="672.20" y2="356.32" stroke="#555" stroke-width="0.7"/>
<text x="544.70" y="359.32" font-size="9" text-anchor="end" >0.99</text>
<line x1="545.90" y1="345.04" x2="547.20" y2="345.04" stroke="#555" stroke-width="0.7"/>
<line x1="670.90" y1="345.04" x2="672.20" y2="345.04" stroke="#555" stroke-width="0.7"/>
<line x1="545.20" y1="333.75" x2="547.20" y2="333.75" stroke="#555" stroke-width="0.7"/>
<line x1="670.20" y1="333.75" x2="672.20" y2="333.75" stroke="#555" stroke-width="0.7"/>
<text x="544.70" y="336.75" font-size="9" text-anchor="end" >1.00</text>
<line x1="545.90" y1="322.46" x2="547.20" y2="322.46" stroke="#555" stroke-width="0.7"/>
<line x1="670.90" y1="322.46" x2="672.20" y2="322.46" stroke="#555" stroke-width="0.7"/>
<line x1="545.20" y1="311.18" x2="547.20" y2="311.18" stroke="#555" stroke-width="0.7"/>
<line x1="670.20" y1="311.18" x2="672.20" y2="311.18" stroke="#555" stroke-width="0.7"/>
<text x="544.70" y="314.18" font-size="9" text-anchor="end" >1.01</text>
<line x1="545.90" y1="299.89" x2="547.20" y2="299.89" stroke="#555" stroke-width="0.7"/>
<line x1="670.90" y1="299.89" x2="672.20" y2="299.89" stroke="#555" stroke-width="0.7"/>
<line x1="545.20" y1="288.60" x2="547.20" y2="288.60" stroke="#555" stroke-width="0.7"/>
<line x1="670.20" y1="288.60" x2="672.20" y2="288.60" stroke="#555" stroke-width="0.7"/>
<text x="544.70" y="291.60" font-size="9" text-anchor="end" >1.02</text>
</svg>
</body></html>
